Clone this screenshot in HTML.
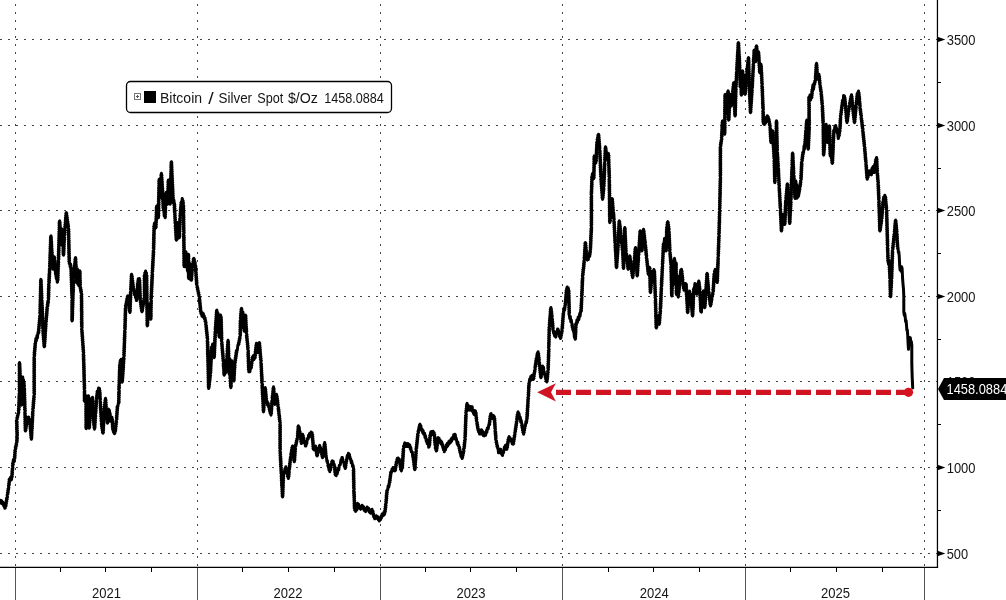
<!DOCTYPE html>
<html><head><meta charset="utf-8"><title>Bitcoin / Silver Spot</title>
<style>
html,body{margin:0;padding:0;background:#fff;}
body{width:1006px;height:600px;overflow:hidden;position:relative;font-family:"Liberation Sans",sans-serif;}
svg{position:absolute;left:0;top:0;display:block;}
text{font-family:"Liberation Sans",sans-serif;filter:url(#gs);}
</style></head><body>
<svg width="1006" height="600" viewBox="0 0 1006 600">
<defs><filter id="gs" x="-5%" y="-50%" width="110%" height="200%" color-interpolation-filters="sRGB"><feOffset dx="0" dy="0"/></filter></defs>
<rect width="1006" height="600" fill="#ffffff"/>

<g stroke="#454545" stroke-width="1" fill="none" shape-rendering="crispEdges">
<line x1="0" y1="39.5" x2="937.45" y2="39.5" stroke-dasharray="2 6" stroke-dashoffset="0"/>
<line x1="0" y1="125.5" x2="937.45" y2="125.5" stroke-dasharray="2 6" stroke-dashoffset="0"/>
<line x1="0" y1="210.5" x2="937.45" y2="210.5" stroke-dasharray="2 6" stroke-dashoffset="0"/>
<line x1="0" y1="296.5" x2="937.45" y2="296.5" stroke-dasharray="2 6" stroke-dashoffset="0"/>
<line x1="0" y1="381.5" x2="937.45" y2="381.5" stroke-dasharray="2 6" stroke-dashoffset="0"/>
<line x1="0" y1="467.5" x2="937.45" y2="467.5" stroke-dasharray="2 6" stroke-dashoffset="0"/>
<line x1="0" y1="553.5" x2="937.45" y2="553.5" stroke-dasharray="2 6" stroke-dashoffset="0"/>
<line x1="15.5" y1="-4" x2="15.5" y2="567.3" stroke-dasharray="2 6"/>
<line x1="197.5" y1="-4" x2="197.5" y2="567.3" stroke-dasharray="2 6"/>
<line x1="380.5" y1="-4" x2="380.5" y2="567.3" stroke-dasharray="2 6"/>
<line x1="562.5" y1="-4" x2="562.5" y2="567.3" stroke-dasharray="2 6"/>
<line x1="745.5" y1="-4" x2="745.5" y2="567.3" stroke-dasharray="2 6"/>
<line x1="924.5" y1="-4" x2="924.5" y2="567.3" stroke-dasharray="2 6"/>
</g>
<g stroke="#555" stroke-width="1" shape-rendering="crispEdges">
<line x1="15.5" y1="567.3" x2="15.5" y2="600"/>
<line x1="197.5" y1="567.3" x2="197.5" y2="600"/>
<line x1="380.5" y1="567.3" x2="380.5" y2="600"/>
<line x1="562.5" y1="567.3" x2="562.5" y2="600"/>
<line x1="745.5" y1="567.3" x2="745.5" y2="600"/>
<line x1="924.5" y1="567.3" x2="924.5" y2="600"/>
</g>
<g stroke="#000" stroke-width="1.25"><line x1="937.45" y1="0" x2="937.45" y2="567.9"/><line x1="0" y1="567.3" x2="938.0500000000001" y2="567.3"/></g>
<g stroke="#000" stroke-width="1" shape-rendering="crispEdges">
<line x1="60.5" y1="567.3" x2="60.5" y2="571.5"/>
<line x1="105.5" y1="567.3" x2="105.5" y2="571.5"/>
<line x1="151.5" y1="567.3" x2="151.5" y2="571.5"/>
<line x1="242.5" y1="567.3" x2="242.5" y2="571.5"/>
<line x1="288.5" y1="567.3" x2="288.5" y2="571.5"/>
<line x1="334.5" y1="567.3" x2="334.5" y2="571.5"/>
<line x1="425.5" y1="567.3" x2="425.5" y2="571.5"/>
<line x1="470.5" y1="567.3" x2="470.5" y2="571.5"/>
<line x1="516.5" y1="567.3" x2="516.5" y2="571.5"/>
<line x1="608.5" y1="567.3" x2="608.5" y2="571.5"/>
<line x1="653.5" y1="567.3" x2="653.5" y2="571.5"/>
<line x1="699.5" y1="567.3" x2="699.5" y2="571.5"/>
<line x1="790.5" y1="567.3" x2="790.5" y2="571.5"/>
<line x1="836.5" y1="567.3" x2="836.5" y2="571.5"/>
<line x1="882.5" y1="567.3" x2="882.5" y2="571.5"/>
<line x1="937.45" y1="82.5" x2="941.0500000000001" y2="82.5"/>
<line x1="937.45" y1="168.5" x2="941.0500000000001" y2="168.5"/>
<line x1="937.45" y1="253.5" x2="941.0500000000001" y2="253.5"/>
<line x1="937.45" y1="339.5" x2="941.0500000000001" y2="339.5"/>
<line x1="937.45" y1="424.5" x2="941.0500000000001" y2="424.5"/>
<line x1="937.45" y1="510.5" x2="941.0500000000001" y2="510.5"/>
</g>
<polygon points="937.45,36.8 945.35,39.5 937.45,42.2" fill="#000"/>
<text x="946.7" y="44.7" font-size="14" fill="#151515" textLength="28.8" lengthAdjust="spacingAndGlyphs">3500</text>
<polygon points="937.45,122.8 945.35,125.5 937.45,128.2" fill="#000"/>
<text x="946.7" y="130.7" font-size="14" fill="#151515" textLength="28.8" lengthAdjust="spacingAndGlyphs">3000</text>
<polygon points="937.45,207.8 945.35,210.5 937.45,213.2" fill="#000"/>
<text x="946.7" y="215.7" font-size="14" fill="#151515" textLength="28.8" lengthAdjust="spacingAndGlyphs">2500</text>
<polygon points="937.45,293.8 945.35,296.5 937.45,299.2" fill="#000"/>
<text x="946.7" y="301.7" font-size="14" fill="#151515" textLength="28.8" lengthAdjust="spacingAndGlyphs">2000</text>
<polygon points="937.45,464.8 945.35,467.5 937.45,470.2" fill="#000"/>
<text x="946.7" y="472.7" font-size="14" fill="#151515" textLength="28.8" lengthAdjust="spacingAndGlyphs">1000</text>
<polygon points="937.45,550.8 945.35,553.5 937.45,556.2" fill="#000"/>
<text x="946.7" y="558.7" font-size="14" fill="#151515" textLength="21.4" lengthAdjust="spacingAndGlyphs">500</text>
<text x="946.7" y="386.7" font-size="14" fill="#151515" textLength="28.8" lengthAdjust="spacingAndGlyphs">1500</text>
<text x="91.9" y="597.7" font-size="14" fill="#151515" textLength="29.0" lengthAdjust="spacingAndGlyphs">2021</text>
<text x="273.6" y="597.7" font-size="14" fill="#151515" textLength="29.0" lengthAdjust="spacingAndGlyphs">2022</text>
<text x="456.4" y="597.7" font-size="14" fill="#151515" textLength="29.0" lengthAdjust="spacingAndGlyphs">2023</text>
<text x="639.7" y="597.7" font-size="14" fill="#151515" textLength="29.0" lengthAdjust="spacingAndGlyphs">2024</text>
<text x="820.9" y="597.7" font-size="14" fill="#151515" textLength="29.0" lengthAdjust="spacingAndGlyphs">2025</text>
<line x1="556" y1="392.3" x2="911" y2="392.3" stroke="#cf1322" stroke-width="5.2" stroke-dasharray="15 5"/>
<polygon points="537.2,392.3 555.9,383.3 551,392.3 555.9,401.6" fill="#cf1322"/>
<polyline points="-1.0,501.0 -0.5,502.5 0.0,501.3 0.5,500.3 1.1,503.2 1.6,500.8 2.2,503.7 2.7,502.7 3.2,502.4 3.7,506.1 4.3,504.5 4.8,508.2 5.3,507.9 5.1,506.8 6.1,505.7 5.4,504.7 6.4,503.6 5.8,502.5 6.8,501.4 6.2,500.3 7.2,499.2 6.5,498.2 7.5,497.1 7.3,496.0 7.1,495.0 8.0,493.9 7.4,492.9 8.3,491.9 7.7,490.8 8.6,489.8 8.0,488.8 8.9,487.7 8.7,486.7 8.4,485.7 9.3,484.7 8.6,483.7 9.5,482.7 8.9,481.7 9.8,480.7 9.1,479.7 9.6,478.7 10.1,480.1 10.6,477.3 11.2,480.1 11.7,478.7 11.4,477.6 12.3,476.5 11.6,475.4 12.5,474.3 11.8,473.2 12.6,472.2 11.9,471.1 12.8,470.0 12.1,468.9 13.0,467.8 12.7,466.7 12.4,465.6 13.3,464.5 12.5,463.5 13.4,462.4 13.1,461.3 13.5,459.4 14.0,461.9 14.4,460.0 14.1,458.9 15.0,457.9 14.3,456.8 15.2,455.7 14.5,454.6 15.3,453.6 14.6,452.5 15.5,451.4 14.8,450.4 15.3,449.3 15.9,448.4 15.3,447.4 16.3,446.5 15.7,445.5 16.7,444.6 16.1,443.6 16.7,442.7 17.2,441.8 16.5,440.8 17.3,439.9 16.6,438.9 17.5,437.9 17.2,437.0 16.8,435.9 17.5,434.9 16.7,433.8 17.5,432.8 16.6,431.7 17.4,430.6 16.6,429.6 17.3,428.5 16.5,427.4 17.3,426.4 16.5,425.3 17.2,424.2 16.4,423.2 17.2,422.1 16.3,421.1 16.7,420.0 17.3,419.0 16.8,417.9 17.8,416.9 17.3,415.9 18.3,414.8 17.8,413.8 18.8,412.7 18.7,411.7 18.3,410.6 19.2,409.6 18.4,408.5 19.3,407.5 18.5,406.4 19.4,405.4 18.6,404.3 19.4,403.3 18.7,402.2 19.5,401.2 18.8,400.1 19.6,399.1 18.8,398.0 19.7,397.0 18.9,395.9 19.8,394.9 19.0,393.8 19.9,392.8 19.5,391.7 19.1,390.6 19.9,389.5 19.1,388.5 19.9,387.4 19.1,386.3 19.9,385.2 19.1,384.2 19.9,383.1 19.1,382.0 19.9,380.9 19.1,379.8 19.9,378.8 19.1,377.7 19.9,376.6 19.1,375.5 19.9,374.5 19.1,373.4 19.9,372.3 19.1,371.2 19.9,370.1 19.1,369.1 19.9,368.0 19.1,366.9 19.9,365.8 19.1,364.8 19.9,363.7 19.5,362.6 19.1,363.7 20.0,364.7 19.2,365.8 20.1,366.9 19.3,367.9 20.2,369.0 19.4,370.1 20.3,371.1 19.5,372.2 20.4,373.3 19.6,374.3 20.5,375.4 19.7,376.5 20.6,377.5 19.8,378.6 20.7,379.7 19.9,380.7 20.8,381.8 20.0,382.9 20.9,383.9 20.5,385.0 20.1,386.1 21.0,387.1 20.2,388.2 21.1,389.3 20.3,390.3 21.2,391.4 20.4,392.4 21.3,393.5 20.5,394.6 21.4,395.6 20.6,396.7 21.5,397.8 20.7,398.8 21.6,399.9 20.8,400.9 21.7,402.0 20.9,403.1 21.8,404.1 21.4,405.2 21.0,404.1 21.9,403.0 21.1,401.9 21.9,400.8 21.2,399.8 22.0,398.7 21.3,397.6 22.1,396.5 21.3,395.4 22.2,394.3 21.4,393.2 22.2,392.1 21.5,391.1 22.3,390.0 21.5,388.9 22.4,387.8 21.6,386.7 22.4,385.6 21.7,384.5 22.5,383.4 21.8,382.4 22.6,381.3 21.8,380.2 22.7,379.1 22.3,378.0 22.7,377.0 23.1,381.0 23.5,380.0 23.2,381.0 24.1,381.9 23.4,382.9 24.3,383.8 23.6,384.8 24.5,385.7 24.2,386.7 23.8,387.8 24.7,388.9 23.9,390.0 24.7,391.0 24.0,392.1 24.8,393.2 24.0,394.3 24.9,395.4 24.1,396.5 24.9,397.6 24.2,398.7 25.0,399.7 24.3,400.8 25.1,401.9 24.3,403.0 25.2,404.1 24.4,405.2 25.2,406.3 24.5,407.4 25.3,408.4 24.5,409.5 25.4,410.6 25.0,411.7 24.6,412.8 25.4,413.8 24.7,414.9 25.5,416.0 24.7,417.1 25.5,418.1 24.8,419.2 25.6,420.3 24.8,421.4 25.6,422.4 24.8,423.5 25.7,424.6 24.9,425.6 25.7,426.7 24.9,427.8 25.8,428.9 25.0,429.9 25.4,431.0 26.0,430.0 25.3,428.9 26.3,427.9 25.6,426.9 26.6,425.8 26.0,424.8 26.9,423.8 26.3,422.8 27.3,421.7 26.6,420.7 27.6,419.7 26.9,418.6 27.5,417.6 28.1,419.6 28.6,416.9 29.1,420.4 29.7,419.3 29.4,420.4 30.3,421.4 29.6,422.5 30.5,423.5 29.7,424.6 30.6,425.6 29.9,426.7 30.8,427.7 30.1,428.8 31.0,429.8 30.3,430.9 31.2,431.9 30.5,433.0 31.4,434.0 30.6,435.1 31.5,436.1 30.8,437.2 31.7,438.2 31.4,439.3 31.1,438.2 31.9,437.1 31.2,436.0 32.0,435.0 31.3,433.9 32.1,432.8 31.4,431.7 32.2,430.6 31.5,429.5 32.4,428.4 31.6,427.4 32.5,426.3 31.7,425.2 32.6,424.1 31.8,423.0 32.7,421.9 31.9,420.9 32.8,419.8 32.1,418.7 32.9,417.6 32.2,416.5 33.0,415.4 32.3,414.3 33.1,413.3 32.4,412.2 33.2,411.1 32.9,410.0 32.6,408.9 33.5,407.9 32.8,406.8 33.7,405.7 33.0,404.6 33.9,403.6 33.1,402.5 34.0,401.4 33.3,400.4 34.2,399.3 33.5,398.2 34.4,397.1 33.7,396.1 34.2,395.0 34.6,393.9 33.8,392.8 34.6,391.7 33.8,390.6 34.6,389.5 33.8,388.5 34.6,387.4 33.8,386.3 34.6,385.2 33.8,384.1 34.6,383.0 33.8,381.9 34.6,380.8 33.8,379.7 34.6,378.6 33.8,377.5 34.6,376.4 33.8,375.4 34.6,374.3 33.8,373.2 34.6,372.1 33.8,371.0 34.6,369.9 33.8,368.8 34.6,367.7 33.8,366.6 34.6,365.5 33.8,364.4 34.6,363.3 33.8,362.3 34.6,361.2 33.8,360.1 34.6,359.0 33.8,357.9 34.2,356.8 34.7,355.7 34.0,354.7 34.9,353.6 34.1,352.5 35.0,351.4 34.3,350.4 35.2,349.3 34.5,348.2 35.4,347.2 34.7,346.1 35.5,345.0 34.8,343.9 35.7,342.9 35.4,341.8 35.9,338.6 36.4,340.8 36.9,335.8 37.4,338.0 37.9,333.0 38.4,333.4 38.9,332.3 38.2,331.2 39.1,330.2 38.4,329.1 39.3,328.0 38.6,326.9 39.5,325.8 38.8,324.7 39.7,323.7 39.0,322.6 39.9,321.5 39.2,320.4 40.1,319.3 39.4,318.2 40.3,317.2 39.6,316.1 40.1,315.0 40.5,313.9 39.7,312.8 40.6,311.8 39.8,310.7 40.6,309.6 39.8,308.5 40.7,307.4 39.9,306.3 40.7,305.3 39.9,304.2 40.8,303.1 40.0,302.0 40.8,300.9 40.0,299.9 40.9,298.8 40.1,297.7 40.9,296.6 40.1,295.5 41.0,294.4 40.2,293.4 41.0,292.3 40.2,291.2 41.1,290.1 40.3,289.0 41.1,288.0 40.3,286.9 41.2,285.8 40.4,284.7 41.2,283.6 40.4,282.5 41.3,281.5 40.5,280.4 40.9,279.3 41.3,280.4 40.6,281.5 41.4,282.6 40.7,283.7 41.5,284.7 40.8,285.8 41.6,286.9 40.9,288.0 41.7,289.1 41.0,290.2 41.8,291.3 41.1,292.4 41.9,293.5 41.2,294.6 42.0,295.6 41.3,296.7 42.1,297.8 41.4,298.9 41.8,300.0 42.2,301.1 41.5,302.1 42.3,303.2 41.6,304.3 42.4,305.4 41.7,306.4 42.5,307.5 41.7,308.6 42.6,309.6 41.8,310.7 42.7,311.8 41.9,312.9 42.8,313.9 42.0,315.0 42.8,316.1 42.1,317.1 42.9,318.2 42.2,319.3 43.0,320.4 42.3,321.4 43.1,322.5 42.3,323.6 43.2,324.6 42.4,325.7 43.3,326.8 42.5,327.9 43.4,328.9 43.0,330.0 42.7,331.1 43.6,332.1 42.8,333.1 43.7,334.2 43.0,335.2 43.9,336.3 43.2,337.4 44.0,338.4 43.3,339.4 44.2,340.5 43.5,341.6 44.4,342.6 43.7,343.7 44.5,344.7 43.8,345.8 44.3,346.8 44.8,345.7 44.0,344.7 44.9,343.6 44.2,342.5 45.1,341.5 44.3,340.4 45.2,339.4 44.5,338.3 45.4,337.2 44.6,336.2 45.5,335.1 44.8,334.0 45.6,333.0 44.9,331.9 45.8,330.8 45.1,329.8 45.9,328.7 45.2,327.7 46.1,326.6 45.4,325.5 46.2,324.5 45.9,323.4 45.6,322.4 46.5,321.3 45.8,320.3 46.6,319.2 45.9,318.2 46.8,317.1 46.1,316.1 47.0,315.0 46.3,314.0 47.2,313.0 46.5,311.9 47.3,310.9 46.6,309.8 47.5,308.8 46.8,307.7 47.3,306.7 47.9,305.7 47.2,304.8 48.2,303.8 47.5,302.9 48.5,301.9 47.8,301.0 48.4,300.0 48.8,298.9 48.1,297.8 48.9,296.7 48.1,295.6 49.0,294.5 48.2,293.4 49.0,292.3 48.3,291.2 49.1,290.1 48.3,289.0 49.2,287.9 48.4,286.8 49.2,285.7 48.5,284.6 48.9,283.5 49.4,282.5 48.6,281.4 49.5,280.4 48.7,279.3 49.6,278.3 48.8,277.2 49.7,276.2 48.9,275.1 49.8,274.1 49.1,273.1 49.9,272.0 49.2,271.0 50.0,269.9 49.3,268.9 50.1,267.8 49.8,266.8 49.4,265.7 50.3,264.7 49.5,263.6 50.4,262.5 49.6,261.5 50.4,260.4 49.7,259.3 50.5,258.2 49.7,257.2 50.6,256.1 49.8,255.0 50.7,254.0 49.9,252.9 50.7,251.8 50.0,250.8 50.8,249.7 50.0,248.6 50.9,247.6 50.1,246.5 51.0,245.4 50.2,244.4 51.0,243.3 50.3,242.2 51.1,241.1 50.3,240.1 51.2,239.0 50.4,237.9 51.3,236.9 50.9,235.8 50.6,236.9 51.4,237.9 50.7,239.0 51.5,240.0 50.8,241.1 51.7,242.1 50.9,243.2 51.8,244.2 51.0,245.2 51.9,246.3 51.2,247.4 52.0,248.4 51.3,249.5 52.1,250.5 51.4,251.6 52.3,252.6 51.5,253.7 52.4,254.7 51.6,255.8 52.1,256.8 52.6,257.8 51.9,258.9 52.8,259.9 52.0,260.9 52.9,262.0 52.2,263.0 53.1,264.0 52.4,265.1 53.2,266.1 52.5,267.1 53.4,268.2 53.1,269.2 52.8,268.2 53.7,267.1 53.0,266.1 53.9,265.1 53.2,264.0 54.1,263.0 53.4,262.0 54.3,260.9 53.6,259.9 54.5,258.9 53.8,257.8 54.3,256.8 54.8,257.9 54.1,258.9 55.0,260.0 54.3,261.1 55.2,262.2 54.5,263.2 55.4,264.3 54.7,265.4 55.5,266.4 54.8,267.5 55.7,268.6 55.0,269.6 55.9,270.7 55.2,271.8 56.1,272.9 55.4,273.9 55.9,275.0 56.3,278.7 56.8,276.5 57.2,282.2 57.6,281.9 57.2,280.8 58.1,279.7 57.3,278.6 58.2,277.5 57.4,276.4 58.3,275.3 57.5,274.2 58.4,273.1 57.6,272.0 58.4,270.9 57.7,269.9 58.5,268.8 57.8,267.7 58.6,266.6 57.9,265.5 58.7,264.4 58.0,263.3 58.8,262.2 58.1,261.1 58.5,260.0 58.9,258.9 58.2,257.8 59.0,256.7 58.2,255.6 59.1,254.6 58.3,253.5 59.1,252.4 58.3,251.3 59.2,250.2 58.4,249.1 59.2,248.0 58.5,246.9 59.3,245.8 58.5,244.8 59.4,243.7 58.6,242.6 59.4,241.5 58.6,240.4 59.5,239.3 58.7,238.2 59.5,237.1 58.8,236.0 59.6,235.0 58.8,233.9 59.7,232.8 58.9,231.7 59.7,230.6 59.0,229.5 59.8,228.4 59.0,227.3 59.8,226.2 59.1,225.2 59.9,224.1 59.1,223.0 60.0,221.9 59.6,220.8 59.3,221.9 60.2,223.0 59.4,224.0 60.3,225.1 59.6,226.2 60.5,227.3 59.8,228.4 60.7,229.5 59.9,230.5 60.8,231.6 60.1,232.7 61.0,233.8 60.3,234.9 61.2,236.0 60.4,237.0 61.3,238.1 61.0,239.2 60.7,238.2 61.5,237.1 60.8,236.1 61.6,235.0 60.9,234.0 61.8,233.0 61.0,231.9 61.9,230.9 61.1,229.8 61.6,228.8 62.0,229.9 61.3,231.0 62.1,232.1 61.4,233.2 62.2,234.3 61.4,235.4 62.3,236.5 61.5,237.5 62.4,238.6 61.6,239.7 62.4,240.8 61.7,241.9 62.5,243.0 61.8,244.1 62.2,245.2 62.7,244.1 62.0,243.1 62.8,242.1 62.1,241.0 63.0,239.9 62.2,238.9 63.1,237.9 62.8,236.8 62.4,237.9 63.3,239.0 62.5,240.0 63.4,241.1 62.6,242.2 63.4,243.3 62.7,244.4 63.5,245.5 62.8,246.5 63.6,247.6 62.9,248.7 63.7,249.8 62.9,250.9 63.8,252.0 63.0,253.0 63.9,254.1 63.5,255.2 63.1,254.1 64.0,253.0 63.2,251.9 64.1,250.8 63.3,249.8 64.2,248.7 63.4,247.6 64.3,246.5 63.5,245.4 64.4,244.3 63.6,243.2 64.5,242.1 63.7,241.1 64.6,240.0 63.8,238.9 64.7,237.8 64.3,236.7 64.0,235.6 64.9,234.5 64.2,233.4 65.1,232.3 64.4,231.2 65.2,230.1 64.5,229.0 65.4,227.9 64.7,226.8 65.6,225.7 64.9,224.6 65.8,223.5 65.1,222.4 66.0,221.3 65.3,220.2 66.2,219.1 65.4,218.0 66.3,216.9 65.6,215.8 66.5,214.7 65.8,213.6 66.3,212.5 66.8,213.6 66.2,214.6 67.1,215.7 66.5,216.7 67.4,217.8 66.8,218.9 67.7,219.9 67.1,221.0 68.0,222.0 67.4,223.1 68.3,224.2 67.7,225.2 68.6,226.3 68.0,227.3 68.5,228.4 68.9,229.5 68.1,230.6 69.0,231.7 68.2,232.8 69.0,233.9 68.2,235.0 69.1,236.1 68.3,237.2 69.1,238.3 68.3,239.4 69.2,240.5 68.4,241.6 69.2,242.7 68.4,243.8 69.3,244.9 68.5,245.9 69.3,247.0 68.5,248.1 69.4,249.2 68.6,250.3 69.4,251.4 68.6,252.5 69.5,253.6 68.7,254.7 69.5,255.8 68.7,256.9 69.6,258.0 68.8,259.1 69.6,260.2 68.8,261.3 69.7,262.4 69.3,263.5 69.7,262.3 70.2,267.2 70.6,263.9 71.0,266.8 71.4,267.9 70.7,269.0 71.5,270.1 70.8,271.2 71.6,272.3 70.8,273.4 71.7,274.5 70.9,275.5 71.7,276.6 71.0,277.7 71.8,278.8 71.1,279.9 71.9,281.0 71.1,282.1 72.0,283.2 71.2,284.3 72.0,285.4 71.3,286.5 72.1,287.6 71.4,288.7 72.2,289.8 71.4,290.8 72.3,291.9 71.5,293.0 72.3,294.1 71.6,295.2 72.4,296.3 71.7,297.4 72.1,298.5 72.5,299.6 71.7,300.6 72.5,301.7 71.7,302.8 72.5,303.8 71.7,304.9 72.5,306.0 71.7,307.0 72.5,308.1 71.7,309.2 72.5,310.2 71.7,311.3 72.5,312.4 71.7,313.4 72.5,314.5 71.7,315.6 72.5,316.6 71.7,317.7 72.5,318.8 71.7,319.8 72.1,320.9 72.5,319.8 71.8,318.7 72.6,317.7 71.8,316.6 72.7,315.5 71.9,314.4 72.8,313.4 72.0,312.3 72.8,311.2 72.1,310.1 72.9,309.1 72.1,308.0 73.0,306.9 72.2,305.8 73.1,304.8 72.3,303.7 73.1,302.6 72.4,301.5 73.2,300.4 72.4,299.4 73.3,298.3 72.5,297.2 73.3,296.1 72.6,295.1 73.4,294.0 72.7,292.9 73.5,291.8 72.7,290.8 73.6,289.7 72.8,288.6 73.6,287.5 72.9,286.5 73.7,285.4 73.0,284.3 73.8,283.2 73.0,282.2 73.9,281.1 73.5,280.0 73.2,278.9 74.1,277.9 73.4,276.8 74.3,275.7 73.6,274.7 74.5,273.6 73.8,272.5 74.7,271.5 74.0,270.4 74.9,269.3 74.1,268.3 75.0,267.2 74.3,266.1 75.2,265.1 74.5,264.0 75.4,262.9 74.7,261.9 75.6,260.8 74.9,259.7 75.8,258.7 75.5,257.6 75.2,258.7 76.0,259.8 75.3,260.9 76.1,262.0 75.4,263.1 76.2,264.1 75.5,265.2 76.4,266.3 75.6,267.4 76.5,268.5 75.7,269.6 76.6,270.7 75.8,271.8 76.7,272.9 75.9,274.0 76.8,275.1 76.1,276.2 76.9,277.2 76.2,278.3 77.0,279.4 76.3,280.5 77.1,281.6 76.8,282.7 76.4,281.6 77.3,280.6 76.5,279.5 77.4,278.4 76.6,277.4 77.4,276.3 76.7,275.2 77.5,274.1 76.7,273.1 77.6,272.0 76.8,270.9 77.7,269.9 77.3,268.8 76.9,269.9 77.8,271.0 77.0,272.1 77.9,273.2 77.1,274.3 78.0,275.4 77.2,276.5 78.0,277.6 77.3,278.7 78.1,279.8 77.4,280.9 78.2,282.0 77.5,283.1 77.9,284.2 78.3,283.2 77.6,282.1 78.4,281.1 77.7,280.1 78.5,279.0 77.8,278.0 78.6,277.0 77.9,276.0 78.7,274.9 78.0,273.9 78.8,272.9 78.1,271.8 78.5,270.8 78.9,271.9 78.2,273.0 79.0,274.1 78.3,275.2 79.1,276.3 78.4,277.4 79.2,278.5 78.4,279.6 79.3,280.7 78.5,281.8 79.4,282.9 78.6,284.0 79.5,285.1 79.1,286.2 78.7,285.1 79.6,284.0 78.8,282.9 79.7,281.8 78.9,280.7 79.8,279.6 79.0,278.5 79.9,277.4 79.1,276.3 80.0,275.2 79.2,274.1 80.1,273.0 79.3,271.9 79.8,270.8 80.2,271.9 79.5,272.9 80.3,274.0 79.5,275.1 80.3,276.1 79.6,277.2 80.4,278.3 79.6,279.3 80.4,280.4 79.7,281.5 80.5,282.5 79.7,283.6 80.5,284.7 79.8,285.7 80.2,286.8 80.8,287.8 80.2,288.7 81.2,289.7 80.5,290.6 81.5,291.6 80.9,292.5 81.5,293.5 81.9,294.6 81.1,295.7 81.9,296.8 81.1,297.9 81.9,299.0 81.2,300.0 82.0,301.1 81.2,302.2 82.0,303.3 81.2,304.4 82.0,305.5 81.2,306.6 82.0,307.7 81.2,308.8 82.0,309.9 81.2,310.9 82.1,312.0 81.3,313.1 82.1,314.2 81.3,315.3 82.1,316.4 81.3,317.5 82.1,318.6 81.3,319.7 82.1,320.8 81.3,321.9 82.2,322.9 81.4,324.0 82.2,325.1 81.4,326.2 82.2,327.3 81.8,328.4 81.5,329.5 82.3,330.6 81.6,331.7 82.5,332.8 81.8,333.9 82.6,334.9 81.9,336.0 82.8,337.1 82.1,338.2 82.9,339.3 82.2,340.4 83.1,341.5 82.4,342.6 83.2,343.7 82.5,344.8 83.4,345.9 82.7,347.0 83.5,348.0 82.8,349.1 83.7,350.2 83.0,351.3 83.8,352.4 83.5,353.5 83.1,354.6 84.0,355.6 83.2,356.7 84.0,357.8 83.2,358.9 84.1,359.9 83.3,361.0 84.1,362.1 83.4,363.2 84.2,364.2 83.4,365.3 84.3,366.4 83.5,367.5 84.3,368.5 83.5,369.6 84.4,370.7 83.6,371.8 84.4,372.8 83.7,373.9 84.5,375.0 83.7,376.0 84.5,377.1 83.8,378.2 84.6,379.3 83.8,380.3 84.7,381.4 83.9,382.5 84.7,383.6 84.0,384.6 84.8,385.7 84.0,386.8 84.8,387.9 84.1,388.9 84.5,390.0 84.9,391.0 84.1,392.0 84.9,393.1 84.1,394.1 84.9,395.1 84.1,396.1 84.9,397.1 84.1,398.1 84.9,399.2 84.1,400.2 84.5,401.2 85.0,401.0 85.5,396.0 86.0,395.8 86.4,396.9 85.6,398.0 86.4,399.1 85.6,400.2 86.4,401.3 85.6,402.4 86.4,403.5 85.7,404.6 86.5,405.7 85.7,406.8 86.5,407.9 85.7,409.0 86.5,410.1 85.7,411.2 86.5,412.2 85.7,413.3 86.5,414.4 85.7,415.5 86.5,416.6 85.7,417.7 86.5,418.8 85.7,419.9 86.6,421.0 85.8,422.1 86.6,423.2 85.8,424.3 86.6,425.4 85.8,426.5 86.6,427.6 86.2,428.7 85.8,427.6 86.7,426.5 85.9,425.4 86.8,424.3 86.0,423.2 86.9,422.1 86.1,421.0 87.0,419.9 86.2,418.8 87.1,417.7 86.3,416.6 87.2,415.5 86.4,414.4 87.2,413.4 86.5,412.3 87.3,411.2 86.6,410.1 87.4,409.0 86.7,407.9 87.5,406.8 86.8,405.7 87.6,404.6 86.9,403.5 87.7,402.4 87.0,401.3 87.8,400.2 87.1,399.1 87.5,398.0 87.9,399.3 88.4,395.7 88.8,397.0 89.2,398.1 88.4,399.2 89.2,400.2 88.5,401.3 89.3,402.4 88.5,403.5 89.3,404.5 88.5,405.6 89.3,406.7 88.5,407.8 89.4,408.8 88.6,409.9 89.4,411.0 88.6,412.1 89.4,413.1 88.6,414.2 89.4,415.3 88.6,416.4 89.5,417.4 88.7,418.5 89.5,419.6 88.7,420.7 89.5,421.7 88.7,422.8 89.5,423.9 88.8,425.0 89.6,426.0 88.8,427.1 89.2,428.2 89.7,427.1 89.0,426.1 89.8,425.0 89.1,423.9 90.0,422.8 89.3,421.8 90.1,420.7 89.4,419.6 90.3,418.6 89.6,417.5 90.4,416.4 89.7,415.4 90.6,414.3 89.9,413.2 90.7,412.1 90.0,411.1 90.5,410.0 91.1,408.9 90.4,407.9 91.4,406.8 90.8,405.8 91.7,404.7 91.1,403.6 92.1,402.6 91.4,401.5 92.4,400.5 91.8,399.4 92.7,398.4 92.5,397.3 92.1,398.3 93.0,399.4 92.2,400.4 93.0,401.5 92.2,402.5 93.1,403.5 92.3,404.6 93.1,405.6 92.4,406.7 93.2,407.7 92.4,408.8 93.3,409.8 92.5,410.8 93.3,411.9 92.5,412.9 93.4,414.0 93.0,415.0 92.7,416.1 93.6,417.2 92.9,418.3 93.9,419.4 93.2,420.5 94.1,421.6 93.4,422.6 94.3,423.7 93.6,424.8 94.6,425.9 93.9,427.0 94.8,428.1 94.5,429.2 94.2,428.1 95.1,427.0 94.3,425.9 95.2,424.8 94.5,423.7 95.4,422.6 94.6,421.6 95.5,420.5 94.8,419.4 95.7,418.3 94.9,417.2 95.8,416.1 95.5,415.0 95.2,413.9 96.0,412.9 95.3,411.8 96.2,410.7 95.5,409.6 96.3,408.6 95.6,407.5 96.5,406.4 95.7,405.4 96.6,404.3 95.9,403.2 96.8,402.1 96.0,401.1 96.5,400.0 97.0,399.0 96.3,398.0 97.2,397.0 96.5,396.0 97.5,395.0 96.8,394.0 97.7,393.0 97.0,392.0 97.5,391.0 98.0,392.0 98.5,388.1 99.0,390.8 99.5,388.5 99.2,389.5 100.0,390.6 99.3,391.6 100.2,392.7 99.4,393.7 100.3,394.8 99.5,395.8 100.4,396.9 99.7,397.9 100.5,399.0 100.2,400.0 99.9,401.1 100.7,402.2 100.0,403.3 100.8,404.4 100.1,405.5 101.0,406.6 100.2,407.7 101.1,408.8 100.4,409.9 101.2,411.0 100.5,412.0 101.3,413.1 100.6,414.2 101.5,415.3 100.7,416.4 101.6,417.5 100.9,418.6 101.7,419.7 101.0,420.8 101.8,421.9 101.5,423.0 101.2,424.0 102.2,425.0 101.5,426.1 102.5,427.1 101.8,428.1 102.8,429.1 102.1,430.1 103.1,431.2 102.4,432.2 103.0,433.2 103.5,432.1 102.7,431.1 103.6,430.0 102.8,429.0 103.7,427.9 102.9,426.9 103.8,425.8 103.0,424.8 103.9,423.7 103.1,422.7 104.0,421.6 103.3,420.5 104.1,419.5 103.4,418.4 104.2,417.4 103.5,416.3 104.3,415.3 103.6,414.2 104.4,413.2 103.7,412.1 104.5,411.1 104.2,410.0 103.9,408.9 104.8,407.9 104.2,406.8 105.1,405.7 104.4,404.7 105.3,403.6 104.6,402.6 105.5,401.5 104.9,400.4 105.8,399.4 105.5,398.3 105.2,399.4 106.0,400.4 105.3,401.5 106.2,402.6 105.4,403.6 106.3,404.7 105.5,405.7 106.4,406.8 105.7,407.9 106.5,408.9 106.2,410.0 105.9,411.1 106.8,412.2 106.1,413.3 107.0,414.4 106.3,415.5 107.2,416.6 106.6,417.7 107.5,418.8 106.8,419.9 107.7,421.0 107.0,422.1 107.5,423.2 108.0,422.1 107.3,421.0 108.1,419.9 107.4,418.8 108.3,417.7 107.6,416.6 108.4,415.6 107.7,414.5 108.6,413.4 107.9,412.3 108.7,411.2 108.0,410.1 108.5,409.0 108.9,411.9 109.4,410.1 109.8,413.0 110.3,414.0 109.6,415.1 110.5,416.1 109.8,417.1 110.6,418.1 109.9,419.1 110.8,420.2 110.5,421.2 111.0,418.3 111.5,420.2 112.0,417.3 111.7,418.4 112.6,419.4 111.8,420.5 112.7,421.5 112.0,422.6 112.9,423.6 112.2,424.7 113.1,425.8 112.3,426.8 113.2,427.9 112.5,428.9 113.0,430.0 113.5,432.3 114.0,430.0 114.5,433.8 115.0,433.0 114.7,431.9 115.7,430.8 115.0,429.8 115.9,428.7 115.2,427.6 116.2,426.5 115.5,425.4 116.4,424.3 115.7,423.2 116.7,422.2 116.0,421.1 116.5,420.0 117.0,418.9 116.3,417.8 117.1,416.8 116.4,415.7 117.3,414.6 116.6,413.5 117.4,412.5 116.7,411.4 117.6,410.3 116.9,409.2 117.7,408.2 117.0,407.1 117.5,406.0 117.9,406.6 118.4,402.4 118.8,403.0 119.2,401.9 118.4,400.8 119.2,399.8 118.5,398.7 119.3,397.6 118.5,396.5 119.3,395.4 118.5,394.3 119.4,393.2 118.6,392.2 119.4,391.1 119.0,390.0 118.6,388.9 119.5,387.9 118.7,386.8 119.5,385.8 118.8,384.7 119.6,383.6 118.9,382.6 119.7,381.5 118.9,380.5 119.8,379.4 119.0,378.3 119.8,377.3 119.1,376.2 119.9,375.2 119.1,374.1 120.0,373.0 119.2,372.0 120.0,370.9 119.3,369.9 120.1,368.8 119.4,367.7 120.2,366.7 119.4,365.6 120.3,364.6 119.9,363.5 120.3,360.4 120.7,362.4 121.1,359.3 120.8,360.4 121.6,361.5 120.9,362.6 121.7,363.7 121.0,364.8 121.8,365.8 121.1,366.9 121.9,368.0 121.2,369.1 122.0,370.2 121.3,371.3 122.1,372.4 121.4,373.5 122.2,374.6 121.5,375.7 122.3,376.7 121.6,377.8 122.4,378.9 121.7,380.0 122.5,381.1 122.2,382.2 121.9,381.1 122.7,380.1 122.0,379.0 122.9,378.0 122.2,376.9 123.0,375.9 122.3,374.8 123.2,373.7 122.4,372.7 123.3,371.6 122.6,370.6 123.5,369.5 122.7,368.4 123.6,367.4 122.9,366.3 123.7,365.3 123.0,364.2 123.9,363.1 123.1,362.1 124.0,361.0 123.3,360.0 124.2,358.9 123.4,357.9 123.9,356.8 124.3,355.7 123.6,354.7 124.4,353.6 123.7,352.5 124.5,351.4 123.7,350.4 124.6,349.3 123.8,348.2 124.7,347.2 123.9,346.1 124.7,345.0 124.0,343.9 124.8,342.9 124.1,341.8 124.9,340.7 124.1,339.6 125.0,338.6 124.2,337.5 125.1,336.4 124.3,335.4 125.1,334.3 124.4,333.2 125.2,332.1 124.5,331.1 124.9,330.0 125.3,328.9 124.6,327.9 125.4,326.8 124.6,325.8 125.5,324.7 124.7,323.6 125.5,322.6 124.8,321.5 125.6,320.5 124.8,319.4 125.7,318.4 124.9,317.3 125.7,316.2 124.9,315.2 125.8,314.1 125.0,313.1 125.8,312.0 125.1,310.9 125.9,309.9 125.1,308.8 126.0,307.8 125.6,306.7 125.4,305.6 126.4,304.5 125.9,303.4 126.9,302.3 126.3,301.2 127.3,300.2 126.7,299.1 127.8,298.0 127.2,296.9 127.8,295.8 128.3,296.9 127.7,297.9 128.6,298.9 127.9,300.0 128.9,301.1 128.2,302.1 129.1,303.1 128.4,304.2 129.4,305.2 128.7,306.3 129.6,307.3 129.0,308.4 129.9,309.4 129.2,310.5 130.2,311.5 129.9,312.6 129.5,311.5 130.4,310.4 129.6,309.4 130.5,308.3 129.7,307.2 130.6,306.1 129.8,305.1 130.6,304.0 129.9,302.9 130.7,301.8 130.0,300.8 130.8,299.7 130.1,298.6 130.9,297.5 130.1,296.5 131.0,295.4 130.2,294.3 131.1,293.2 130.3,292.2 131.2,291.1 130.8,290.0 130.5,289.0 131.3,287.9 130.6,286.9 131.4,285.8 130.7,284.8 131.5,283.7 130.8,282.7 131.6,281.6 130.9,280.6 131.7,279.5 131.0,278.5 131.8,277.4 131.1,276.4 131.9,275.3 131.6,274.3 131.3,275.3 132.3,276.4 131.6,277.4 132.5,278.5 131.9,279.5 132.8,280.6 132.1,281.6 133.1,282.7 132.4,283.7 133.3,284.8 132.7,285.8 133.6,286.9 132.9,287.9 133.9,289.0 133.6,290.0 134.1,289.5 134.5,294.8 135.0,292.4 135.5,297.7 136.0,295.3 136.4,300.6 136.9,300.1 136.6,299.0 137.4,297.9 136.7,296.9 137.5,295.8 136.8,294.7 137.6,293.6 136.9,292.6 137.7,291.5 137.0,290.4 137.8,289.3 137.1,288.3 137.9,287.2 137.2,286.1 138.0,285.0 137.3,284.0 138.1,282.9 137.8,281.8 138.3,278.7 138.9,281.6 139.4,278.5 139.0,279.6 139.9,280.6 139.1,281.7 140.0,282.8 139.2,283.9 140.1,284.9 139.3,286.0 140.2,287.1 139.4,288.2 140.3,289.2 139.5,290.3 140.3,291.4 139.6,292.5 140.4,293.6 139.7,294.6 140.5,295.7 139.8,296.8 140.6,297.9 139.9,298.9 140.3,300.0 140.9,301.1 140.2,302.1 141.2,303.2 140.5,304.3 141.5,305.3 140.8,306.4 141.8,307.4 141.1,308.5 142.1,309.6 141.4,310.6 142.0,311.7 142.6,310.6 142.0,309.6 142.9,308.5 142.3,307.4 143.3,306.3 142.7,305.3 143.7,304.2 143.0,303.1 144.0,302.1 143.4,301.0 144.4,299.9 143.7,298.8 144.7,297.8 144.5,296.7 144.1,295.6 144.9,294.5 144.1,293.4 144.9,292.4 144.1,291.3 144.9,290.2 144.1,289.1 144.9,288.0 144.1,286.9 144.9,285.9 144.1,284.8 144.9,283.7 144.1,282.6 144.9,281.5 144.1,280.4 144.9,279.3 144.1,278.3 144.9,277.2 144.1,276.1 144.5,275.0 145.2,274.0 144.7,273.0 145.7,272.0 145.6,271.0 145.4,272.0 146.5,273.0 145.9,274.0 146.6,275.0 147.0,276.1 146.2,277.2 147.0,278.2 146.3,279.3 147.1,280.4 146.3,281.5 147.1,282.6 146.3,283.7 147.1,284.7 146.3,285.8 147.2,286.9 146.4,288.0 147.2,289.1 146.4,290.2 147.2,291.2 146.4,292.3 147.3,293.4 146.5,294.5 147.3,295.6 146.5,296.7 147.3,297.7 146.5,298.8 147.3,299.9 146.6,301.0 147.4,302.1 146.6,303.2 147.4,304.2 146.6,305.3 147.4,306.4 146.6,307.5 147.5,308.6 146.7,309.7 147.5,310.7 146.7,311.8 147.5,312.9 146.7,314.0 147.6,315.1 146.8,316.2 147.6,317.2 146.8,318.3 147.6,319.4 146.8,320.5 147.6,321.6 146.9,322.7 147.7,323.7 146.9,324.8 147.3,325.9 147.8,324.8 147.0,323.7 147.9,322.6 147.2,321.6 148.0,320.5 147.3,319.4 148.2,318.3 147.4,317.2 148.3,316.1 147.5,315.0 148.4,314.0 147.7,312.9 148.5,311.8 147.8,310.7 148.7,309.6 147.9,308.5 148.8,307.5 148.1,306.4 148.9,305.3 148.6,304.2 148.4,305.3 149.3,306.3 148.7,307.4 149.6,308.5 149.0,309.6 149.9,310.6 149.3,311.7 150.3,312.8 149.6,313.8 150.6,314.9 149.9,316.0 150.9,317.1 150.2,318.1 150.8,319.2 151.2,318.1 150.4,317.1 151.3,316.0 150.5,314.9 151.3,313.9 150.5,312.8 151.3,311.7 150.5,310.7 151.3,309.6 150.6,308.5 151.4,307.5 150.6,306.4 151.4,305.3 150.6,304.3 151.5,303.2 150.7,302.1 151.5,301.1 151.1,300.0 150.7,298.9 151.6,297.9 150.8,296.8 151.7,295.8 150.9,294.7 151.8,293.6 151.0,292.6 151.9,291.5 151.1,290.5 152.0,289.4 151.2,288.3 152.1,287.3 151.3,286.2 152.2,285.2 151.4,284.1 152.3,283.0 151.5,282.0 152.4,280.9 151.6,279.9 152.5,278.8 151.7,277.7 152.6,276.7 151.8,275.6 152.7,274.6 152.3,273.5 152.0,272.4 152.8,271.4 152.1,270.3 152.9,269.2 152.2,268.2 153.1,267.1 152.3,266.0 153.2,265.0 152.4,263.9 153.3,262.8 152.5,261.8 153.4,260.7 152.7,259.6 153.5,258.5 152.8,257.5 153.6,256.4 152.9,255.3 153.8,254.3 153.0,253.2 153.9,252.1 153.1,251.1 153.6,250.0 154.0,248.9 153.2,247.9 154.1,246.8 153.3,245.7 154.1,244.6 153.3,243.6 154.2,242.5 153.4,241.4 154.2,240.4 153.4,239.3 154.3,238.2 153.5,237.2 154.3,236.1 153.5,235.0 154.4,233.9 153.6,232.9 154.4,231.8 153.6,230.7 154.5,229.7 153.7,228.6 154.5,227.5 153.7,226.4 154.6,225.4 154.2,224.3 154.6,223.0 155.1,228.2 155.5,224.7 155.9,227.7 156.3,226.6 155.6,225.5 156.4,224.4 155.7,223.3 156.5,222.2 155.7,221.1 156.6,220.0 155.8,218.9 156.7,217.8 155.9,216.8 156.7,215.7 156.0,214.6 156.8,213.5 156.1,212.4 156.9,211.3 156.1,210.2 157.0,209.1 156.2,208.0 157.1,206.9 156.7,205.8 156.5,206.9 157.4,208.0 156.8,209.0 157.7,210.1 157.1,211.2 158.0,212.3 157.4,213.4 158.3,214.5 157.7,215.5 158.6,216.6 158.4,217.7 158.0,216.6 158.8,215.5 158.1,214.4 158.9,213.3 158.1,212.2 158.9,211.1 158.2,210.0 159.0,208.9 158.2,207.8 159.0,206.7 158.3,205.6 159.1,204.5 158.3,203.4 159.1,202.3 158.3,201.2 159.2,200.1 158.4,199.0 159.2,197.9 158.4,196.8 159.3,195.7 158.5,194.6 159.3,193.5 158.5,192.4 159.3,191.3 158.6,190.2 159.4,189.1 158.6,188.0 159.4,186.9 158.7,185.8 159.5,184.7 158.7,183.6 159.5,182.5 158.8,181.4 159.6,180.3 159.2,179.2 158.9,180.3 159.7,181.4 159.0,182.4 159.8,183.5 159.1,184.6 159.9,185.7 159.2,186.8 160.0,187.9 159.3,188.9 160.1,190.0 159.4,191.1 160.2,192.2 159.5,193.3 160.3,194.4 159.6,195.4 160.4,196.5 160.1,197.6 159.8,196.5 160.6,195.5 159.9,194.4 160.7,193.4 160.0,192.3 160.8,191.3 160.1,190.2 161.0,189.1 160.2,188.1 161.1,187.0 160.3,186.0 161.2,184.9 160.4,183.9 161.3,182.8 160.5,181.8 161.4,180.7 160.7,179.6 161.5,178.6 160.8,177.5 161.6,176.5 160.9,175.4 161.7,174.4 161.4,173.3 161.1,174.4 161.9,175.5 161.2,176.5 162.1,177.6 161.4,178.7 162.2,179.8 161.5,180.9 162.4,182.0 161.6,183.0 162.5,184.1 161.8,185.2 162.6,186.3 161.9,187.4 162.8,188.5 162.1,189.5 162.9,190.6 162.6,191.7 162.2,192.8 163.1,193.9 162.3,194.9 163.2,196.0 162.4,197.1 163.3,198.2 162.5,199.2 163.4,200.3 162.6,201.4 163.5,202.5 162.7,203.5 163.6,204.6 162.8,205.7 163.7,206.8 162.9,207.8 163.8,208.9 163.4,210.0 163.8,209.7 164.2,216.0 164.7,213.6 165.1,217.7 165.5,216.6 164.8,215.5 165.6,214.4 164.8,213.3 165.7,212.2 164.9,211.1 165.7,210.0 165.0,208.9 165.8,207.8 165.0,206.7 165.9,205.6 165.1,204.6 166.0,203.5 165.2,202.4 166.0,201.3 165.3,200.2 166.1,199.1 165.3,198.0 166.2,196.9 165.4,195.8 166.2,194.7 165.5,193.6 165.9,192.5 166.5,193.6 165.8,194.6 166.8,195.7 166.1,196.8 167.1,197.8 166.4,198.9 167.4,199.9 166.7,201.0 167.7,202.1 167.0,203.1 167.6,204.2 168.0,203.1 167.3,202.0 168.1,200.9 167.3,199.8 168.2,198.7 167.4,197.6 168.3,196.5 167.5,195.4 168.3,194.3 167.6,193.2 168.4,192.1 167.6,191.0 168.5,189.9 167.7,188.8 168.5,187.7 167.8,186.6 168.6,185.5 167.9,184.4 168.7,183.3 167.9,182.2 168.8,181.1 168.4,180.0 168.1,181.1 169.0,182.2 168.2,183.3 169.1,184.4 168.4,185.5 169.3,186.6 168.5,187.7 169.4,188.8 168.7,189.9 169.6,191.0 168.8,192.1 169.7,193.2 169.0,194.3 169.9,195.4 169.2,196.5 170.0,197.6 169.3,198.7 170.2,199.8 169.5,200.9 170.3,202.0 169.6,203.1 170.1,204.2 170.5,203.1 169.8,202.0 170.6,200.9 169.8,199.8 170.7,198.8 169.9,197.7 170.7,196.6 170.0,195.5 170.8,194.4 170.0,193.3 170.9,192.2 170.1,191.1 170.9,190.0 170.2,188.9 171.0,187.9 170.2,186.8 171.1,185.7 170.3,184.6 171.1,183.5 170.4,182.4 171.2,181.3 170.4,180.2 171.3,179.1 170.5,178.0 171.3,177.0 170.6,175.9 171.4,174.8 170.6,173.7 171.5,172.6 170.7,171.5 171.5,170.4 170.8,169.3 171.6,168.2 170.8,167.1 171.7,166.1 170.9,165.0 171.7,163.9 171.0,162.8 171.4,161.7 171.8,162.8 171.1,163.9 171.9,165.0 171.2,166.1 172.0,167.2 171.3,168.3 172.1,169.4 171.4,170.5 172.2,171.5 171.5,172.6 172.3,173.7 171.6,174.8 172.4,175.9 171.7,177.0 172.5,178.1 171.8,179.2 172.6,180.3 171.9,181.4 172.7,182.5 172.0,183.6 172.8,184.7 172.1,185.8 172.9,186.9 172.2,188.0 173.0,189.1 172.3,190.2 173.1,191.2 172.4,192.3 173.2,193.4 172.5,194.5 173.3,195.6 172.6,196.7 173.4,197.8 172.7,198.9 173.1,200.0 173.5,203.4 173.9,200.0 174.3,203.4 174.8,204.5 174.0,205.6 174.9,206.6 174.1,207.7 175.0,208.8 174.2,209.9 175.1,211.0 174.3,212.0 175.2,213.1 174.5,214.2 175.3,215.3 174.6,216.4 175.4,217.4 174.7,218.5 175.5,219.6 174.8,220.7 175.6,221.8 174.9,222.8 175.7,223.9 175.4,225.0 175.1,226.1 175.9,227.2 175.2,228.3 176.1,229.3 175.4,230.4 176.2,231.5 175.5,232.6 176.4,233.7 175.6,234.8 176.5,235.9 175.8,236.9 176.7,238.0 175.9,239.1 176.4,240.2 176.8,239.2 176.1,238.1 176.9,237.1 176.2,236.1 177.0,235.0 176.2,234.0 177.1,233.0 176.3,232.0 177.1,230.9 176.4,229.9 177.2,228.9 176.5,227.8 176.9,226.8 177.3,227.8 176.5,228.9 177.4,229.9 176.6,230.9 177.4,232.0 176.7,233.0 177.5,234.0 176.7,235.1 177.5,236.1 176.7,237.1 177.6,238.2 177.2,239.2 176.8,238.2 177.7,237.1 176.9,236.1 177.7,235.1 176.9,234.0 177.8,233.0 177.0,231.9 177.8,230.9 177.0,229.9 177.8,228.8 177.1,227.8 177.9,226.8 177.1,225.7 177.9,224.7 177.2,223.6 177.6,222.6 178.0,223.6 177.3,224.7 178.1,225.7 177.4,226.8 178.2,227.8 177.4,228.8 178.3,229.9 177.5,230.9 178.4,232.0 177.6,233.0 178.4,234.0 177.7,235.1 178.5,236.1 177.8,237.2 178.2,238.2 178.6,237.2 177.9,236.1 178.7,235.1 178.0,234.1 178.8,233.0 178.0,232.0 178.9,231.0 178.1,230.0 178.9,228.9 178.2,227.9 179.0,226.9 178.3,225.8 178.7,224.8 179.2,225.9 178.4,227.0 179.2,228.0 178.5,229.1 179.3,230.2 178.6,231.2 179.5,232.3 178.7,233.4 179.6,234.5 178.8,235.5 179.7,236.6 179.3,237.7 178.9,236.6 179.8,235.5 179.0,234.4 179.9,233.3 179.1,232.2 180.0,231.1 179.2,230.0 180.0,228.9 179.3,227.8 180.1,226.7 179.4,225.6 180.2,224.5 179.4,223.4 180.3,222.3 179.5,221.2 180.4,220.1 179.6,219.0 180.5,217.9 180.1,216.8 179.8,215.7 180.7,214.7 180.0,213.6 180.9,212.5 180.2,211.4 181.1,210.4 180.3,209.3 181.2,208.2 180.5,207.2 181.4,206.1 180.7,205.0 181.6,203.9 180.9,202.9 181.4,201.8 181.8,203.4 182.2,198.4 182.6,200.0 183.2,201.0 182.5,202.0 183.5,203.0 182.8,204.0 183.4,205.0 183.8,206.1 183.0,207.2 183.8,208.3 183.1,209.4 183.9,210.5 183.1,211.6 183.9,212.7 183.1,213.8 183.9,214.9 183.2,216.0 184.0,217.1 183.2,218.2 184.0,219.2 183.2,220.3 184.0,221.4 183.2,222.5 184.1,223.6 183.3,224.7 184.1,225.8 183.3,226.9 184.1,228.0 183.3,229.1 184.2,230.2 183.4,231.3 184.2,232.4 183.8,233.5 183.4,234.6 184.2,235.6 183.4,236.7 184.3,237.8 183.5,238.9 184.3,239.9 183.5,241.0 184.3,242.1 183.5,243.1 184.3,244.2 183.5,245.3 184.4,246.4 183.6,247.4 184.4,248.5 183.6,249.6 184.4,250.6 183.6,251.7 184.4,252.8 183.6,253.8 184.5,254.9 183.7,256.0 184.5,257.1 183.7,258.1 184.5,259.2 183.7,260.3 184.5,261.3 183.7,262.4 184.6,263.5 183.8,264.6 184.6,265.6 184.2,266.7 183.9,265.6 184.7,264.6 184.0,263.6 184.8,262.5 184.1,261.4 184.9,260.4 184.2,259.4 185.1,258.3 184.3,257.2 185.2,256.2 184.4,255.2 185.3,254.1 184.5,253.1 185.0,252.0 185.4,253.9 185.9,251.7 185.5,252.7 186.4,253.8 185.6,254.8 186.4,255.8 185.7,256.9 186.5,257.9 185.7,258.9 186.6,260.0 185.8,261.0 186.6,262.0 185.9,263.1 186.7,264.1 185.9,265.1 186.8,266.2 186.4,267.2 186.0,266.2 186.9,265.1 186.1,264.1 187.0,263.1 186.2,262.0 187.1,261.0 186.3,260.0 187.2,259.0 186.4,257.9 187.3,256.9 186.5,255.9 187.4,254.8 187.0,253.8 186.6,254.9 187.5,256.0 186.7,257.1 187.6,258.1 186.8,259.2 187.7,260.3 186.9,261.4 187.8,262.5 187.0,263.6 187.8,264.7 187.1,265.8 187.9,266.9 187.2,267.9 188.0,269.0 187.3,270.1 187.7,271.2 188.1,270.1 187.4,269.1 188.2,268.0 187.5,266.9 188.3,265.9 187.6,264.8 188.4,263.8 187.7,262.7 188.5,261.6 187.7,260.6 188.6,259.5 187.8,258.4 188.7,257.4 187.9,256.3 188.8,255.3 188.4,254.2 188.0,255.3 188.8,256.4 188.0,257.5 188.9,258.6 188.1,259.7 188.9,260.8 188.1,261.9 188.9,263.0 188.1,264.1 188.9,265.2 188.2,266.3 189.0,267.4 188.2,268.5 189.0,269.6 188.2,270.7 189.0,271.8 188.2,272.9 189.0,274.0 188.3,275.1 189.1,276.2 188.3,277.3 188.7,278.4 189.1,277.4 188.4,276.3 189.2,275.3 188.5,274.2 189.3,273.2 188.6,272.2 189.4,271.1 188.7,270.1 189.5,269.0 188.8,268.0 189.6,267.0 188.9,265.9 189.7,264.9 189.0,263.8 189.4,262.8 189.8,263.9 189.1,265.0 189.9,266.1 189.2,267.2 190.0,268.3 189.2,269.4 190.1,270.5 189.3,271.5 190.2,272.6 189.4,273.7 190.2,274.8 189.5,275.9 190.3,277.0 189.6,278.1 190.0,279.2 190.5,278.2 189.7,277.1 190.6,276.1 189.8,275.1 190.7,274.0 189.9,273.0 190.8,272.0 190.0,270.9 190.8,269.9 190.1,268.9 190.9,267.8 190.6,266.8 190.3,267.8 191.1,268.9 190.4,269.9 191.2,270.9 190.5,272.0 191.4,273.0 190.6,274.0 191.5,275.0 190.8,276.1 191.6,277.1 190.9,278.1 191.7,279.2 191.4,280.2 191.1,279.2 191.9,278.2 191.2,277.1 192.1,276.1 191.3,275.1 192.2,274.1 191.5,273.1 192.3,272.1 191.6,271.1 192.5,270.0 191.7,269.0 192.2,268.0 192.8,266.9 192.2,265.8 193.1,264.8 192.5,263.7 193.5,262.6 192.9,261.5 193.8,260.5 193.2,259.4 193.8,258.3 194.4,259.3 193.9,260.2 194.9,261.2 194.3,262.1 195.3,263.1 194.8,264.0 195.4,265.0 195.9,266.1 195.1,267.1 196.0,268.2 195.3,269.2 196.2,270.3 195.4,271.3 196.3,272.4 195.6,273.4 196.5,274.5 195.7,275.5 196.6,276.6 195.9,277.6 196.8,278.7 196.0,279.7 196.9,280.8 196.2,281.8 197.1,282.9 196.3,283.9 196.8,285.0 197.4,286.1 196.9,287.1 197.9,288.2 197.3,289.3 198.3,290.4 197.8,291.4 198.8,292.5 198.2,293.6 199.2,294.7 198.7,295.7 199.3,296.8 199.8,297.8 199.1,298.9 200.0,299.9 199.3,301.0 200.2,302.0 199.5,303.1 200.4,304.1 199.7,305.1 200.6,306.2 199.9,307.2 200.8,308.3 200.1,309.3 201.0,310.4 200.3,311.4 201.2,312.5 200.9,313.5 201.4,312.0 201.9,316.1 202.4,312.7 202.8,316.8 203.3,313.4 203.8,317.5 204.3,316.0 204.1,317.1 205.2,318.1 204.6,319.2 205.6,320.3 205.0,321.4 206.1,322.4 205.9,323.5 205.6,324.6 206.5,325.7 205.8,326.8 206.7,327.9 206.0,329.0 206.9,330.1 206.2,331.2 207.2,332.3 206.5,333.4 207.4,334.5 206.7,335.6 207.6,336.7 206.9,337.8 207.8,338.9 207.5,340.0 207.1,341.1 208.0,342.2 207.2,343.2 208.0,344.3 207.2,345.4 208.1,346.5 207.3,347.5 208.1,348.6 207.3,349.7 208.2,350.8 207.4,351.9 208.2,352.9 207.4,354.0 208.3,355.1 207.5,356.2 208.3,357.2 207.6,358.3 208.4,359.4 207.6,360.5 208.4,361.6 207.7,362.6 208.5,363.7 207.7,364.8 208.5,365.9 207.8,366.9 208.6,368.0 207.8,369.1 208.6,370.2 207.9,371.3 208.7,372.3 207.9,373.4 208.8,374.5 208.0,375.6 208.8,376.6 208.0,377.7 208.9,378.8 208.1,379.9 208.9,381.0 208.1,382.0 209.0,383.1 208.2,384.2 209.0,385.3 208.2,386.3 209.1,387.4 208.7,388.5 208.4,387.4 209.3,386.3 208.7,385.3 209.6,384.2 208.9,383.1 209.8,382.0 209.2,380.9 210.1,379.9 209.4,378.8 210.3,377.7 209.6,376.6 210.6,375.6 209.9,374.5 210.4,373.4 210.9,372.3 210.1,371.3 211.0,370.2 210.2,369.1 211.1,368.1 210.3,367.0 211.2,365.9 210.4,364.9 211.3,363.8 210.5,362.7 211.4,361.7 210.6,360.6 211.5,359.5 210.7,358.4 211.6,357.4 210.8,356.3 211.7,355.2 210.9,354.2 211.8,353.1 211.0,352.0 211.9,351.0 211.1,349.9 212.0,348.8 211.2,347.8 211.7,346.7 212.1,348.1 212.6,344.1 213.0,347.2 213.4,345.0 213.1,346.1 213.9,347.1 213.2,348.1 214.1,349.2 213.3,350.2 214.2,351.3 213.5,352.3 214.3,353.4 213.6,354.4 214.5,355.5 213.7,356.5 214.2,357.6 214.6,356.5 213.9,355.5 214.7,354.4 214.0,353.4 214.8,352.3 214.1,351.2 214.9,350.2 214.2,349.1 215.0,348.0 214.3,347.0 215.1,345.9 214.4,344.9 215.2,343.8 214.4,342.7 215.3,341.7 214.5,340.6 215.4,339.6 214.6,338.5 215.5,337.4 214.7,336.4 215.6,335.3 214.8,334.2 215.7,333.2 214.9,332.1 215.8,331.1 215.4,330.0 215.1,329.0 215.9,327.9 215.2,326.9 216.1,325.8 215.4,324.8 216.2,323.7 215.5,322.7 216.4,321.6 215.7,320.6 216.5,319.5 215.8,318.5 216.7,317.4 216.0,316.4 216.8,315.3 216.1,314.3 217.0,313.2 216.3,312.2 217.1,311.1 216.8,310.1 216.4,311.2 217.3,312.2 216.5,313.3 217.3,314.3 216.5,315.4 217.4,316.4 216.6,317.5 217.4,318.5 216.7,319.6 217.5,320.6 216.7,321.7 217.5,322.7 216.8,323.8 217.6,324.8 216.8,325.9 217.7,326.9 216.9,328.0 217.7,329.0 216.9,330.1 217.8,331.1 217.4,332.2 217.0,331.1 217.9,330.1 217.1,329.0 217.9,327.9 217.1,326.9 218.0,325.8 217.2,324.7 218.0,323.7 217.2,322.6 218.1,321.5 217.3,320.5 218.1,319.4 217.4,318.3 218.2,317.3 217.4,316.2 218.2,315.1 217.5,314.1 217.9,313.0 218.2,315.9 218.5,315.0 218.1,316.1 219.0,317.1 218.2,318.2 219.1,319.2 218.3,320.3 219.1,321.3 218.4,322.4 219.2,323.5 218.4,324.5 219.3,325.6 218.5,326.6 219.4,327.7 218.6,328.7 219.4,329.8 218.7,330.9 219.5,331.9 218.7,333.0 219.6,334.0 218.8,335.1 219.7,336.1 219.3,337.2 218.9,336.1 219.8,335.1 219.0,334.0 219.8,332.9 219.1,331.9 219.9,330.8 219.2,329.8 220.0,328.7 219.2,327.6 220.1,326.6 219.3,325.5 220.1,324.4 219.4,323.4 220.2,322.3 219.5,321.3 220.3,320.2 219.5,319.1 220.4,318.1 220.0,317.0 220.5,315.0 221.0,316.8 221.4,317.9 220.7,319.0 221.5,320.0 220.7,321.1 221.6,322.2 220.8,323.3 221.6,324.4 220.8,325.5 221.7,326.5 220.9,327.6 221.7,328.7 221.0,329.8 221.8,330.9 221.0,332.0 221.9,333.0 221.1,334.1 221.9,335.2 221.1,336.3 222.0,337.4 221.2,338.5 222.0,339.5 221.3,340.6 221.7,341.7 222.2,342.8 221.5,343.8 222.4,344.9 221.7,345.9 222.5,347.0 221.8,348.0 222.7,349.1 222.0,350.1 222.9,351.2 222.2,352.2 223.1,353.3 222.4,354.3 223.3,355.4 222.6,356.4 223.4,357.5 222.7,358.5 223.6,359.6 222.9,360.6 223.4,361.7 223.9,362.7 223.1,363.8 224.0,364.8 223.2,365.9 224.1,366.9 223.4,367.9 224.2,369.0 223.5,370.0 224.4,371.0 223.6,372.1 224.5,373.1 223.7,374.2 224.2,375.2 224.7,374.2 223.9,373.1 224.8,372.1 224.0,371.1 224.8,370.1 224.1,369.0 225.0,368.0 224.2,367.0 225.1,365.9 224.3,364.9 225.2,363.9 224.4,362.9 225.2,361.8 224.9,360.8 224.5,361.8 225.4,362.9 224.6,363.9 225.5,364.9 224.7,366.0 225.6,367.0 224.8,368.0 225.6,369.1 224.9,370.1 225.7,371.1 225.0,372.2 225.4,373.2 225.9,372.1 225.1,371.1 226.0,370.0 225.2,368.9 226.1,367.9 225.3,366.8 226.2,365.7 225.4,364.6 226.2,363.6 225.9,362.5 225.6,363.6 226.5,364.7 225.8,365.8 226.7,366.9 225.9,367.9 226.8,369.0 226.1,370.1 226.6,371.2 227.0,370.1 226.3,369.1 227.1,368.0 226.4,366.9 227.2,365.9 226.4,364.8 227.3,363.7 226.5,362.7 227.3,361.6 226.6,360.5 227.4,359.5 226.7,358.4 227.5,357.3 226.7,356.3 227.6,355.2 226.8,354.1 227.7,353.1 227.3,352.0 227.0,350.9 227.8,349.9 227.1,348.8 228.0,347.7 227.3,346.7 228.1,345.6 227.4,344.6 228.3,343.5 227.6,342.4 228.4,341.4 228.1,340.3 227.7,341.4 228.6,342.5 227.8,343.6 228.7,344.7 227.9,345.8 228.7,346.9 228.0,348.0 228.8,349.0 228.0,350.1 228.9,351.2 228.1,352.3 229.0,353.4 228.2,354.5 229.0,355.6 228.3,356.7 229.1,357.8 228.4,358.9 229.2,360.0 228.4,361.1 229.3,362.2 228.5,363.3 229.4,364.4 228.6,365.5 229.4,366.5 228.7,367.6 229.5,368.7 228.7,369.8 229.6,370.9 228.8,372.0 229.7,373.1 229.3,374.2 228.9,373.1 229.8,372.0 229.0,370.9 229.8,369.8 229.1,368.7 229.9,367.6 229.2,366.5 230.0,365.4 229.2,364.3 230.1,363.2 229.3,362.1 230.1,361.0 229.4,359.9 229.8,358.8 230.2,359.9 229.5,360.9 230.3,362.0 229.5,363.0 230.3,364.1 229.6,365.2 230.4,366.2 229.6,367.3 230.4,368.3 229.7,369.4 230.5,370.5 229.7,371.5 230.5,372.6 229.8,373.6 230.6,374.7 229.8,375.8 230.6,376.8 229.8,377.9 230.7,378.9 230.3,380.0 230.0,381.1 230.9,382.2 230.2,383.3 231.0,384.4 230.3,385.5 231.2,386.6 230.9,387.7 230.5,386.6 231.4,385.5 230.6,384.5 231.4,383.4 230.7,382.3 231.5,381.2 230.8,380.2 231.6,379.1 230.8,378.0 231.7,376.9 230.9,375.9 231.7,374.8 231.0,373.7 231.8,372.6 231.0,371.6 231.9,370.5 231.1,369.4 231.9,368.3 231.2,367.3 232.0,366.2 231.3,365.1 232.1,364.0 231.3,363.0 232.2,361.9 231.8,360.8 231.4,361.9 232.3,363.0 231.5,364.1 232.4,365.2 231.6,366.3 232.4,367.4 231.7,368.5 232.5,369.5 231.8,370.6 232.6,371.7 231.8,372.8 232.7,373.9 231.9,375.0 232.8,376.1 232.4,377.2 232.0,376.2 232.9,375.1 232.1,374.1 233.0,373.1 232.2,372.1 233.1,371.0 232.3,370.0 233.1,369.0 232.4,367.9 233.2,366.9 232.5,365.9 233.3,364.9 232.6,363.8 233.0,362.8 233.4,363.9 232.7,364.9 233.5,366.0 232.8,367.1 233.6,368.2 232.9,369.2 233.7,370.3 233.0,371.4 233.8,372.4 233.1,373.5 233.9,374.6 233.2,375.6 234.0,376.7 233.3,377.8 234.1,378.9 233.4,379.9 233.8,381.0 234.3,380.0 233.5,378.9 234.4,377.9 233.6,376.9 234.5,375.8 233.8,374.8 234.6,373.8 233.9,372.7 234.7,371.7 234.0,370.6 234.8,369.6 234.1,368.6 235.0,367.5 234.2,366.5 235.1,365.5 234.3,364.4 234.8,363.4 235.4,362.4 234.7,361.3 235.7,360.3 235.0,359.3 236.0,358.2 235.3,357.2 236.3,356.2 235.6,355.2 236.6,354.1 235.9,353.1 236.9,352.1 236.2,351.0 236.8,350.0 237.3,350.1 237.9,344.9 238.4,345.0 239.0,344.0 238.4,343.0 239.4,342.0 238.8,341.0 239.8,340.0 239.2,339.0 240.2,338.0 239.6,337.0 240.2,336.0 240.6,334.9 239.8,333.9 240.7,332.8 239.9,331.7 240.7,330.7 239.9,329.6 240.7,328.5 240.0,327.5 240.8,326.4 240.0,325.3 240.8,324.3 240.0,323.2 240.9,322.1 240.1,321.1 240.5,320.0 241.0,318.9 240.3,317.9 241.2,316.8 240.5,315.8 241.4,314.7 240.6,313.7 241.5,312.6 240.8,311.6 241.7,310.5 241.0,309.5 241.5,308.4 241.9,309.4 241.2,310.5 242.0,311.5 241.3,312.6 242.1,313.6 241.4,314.7 242.2,315.7 241.5,316.8 242.3,317.8 241.5,318.8 242.4,319.9 241.6,320.9 242.5,322.0 241.7,323.0 242.6,324.1 241.8,325.1 242.7,326.2 242.3,327.2 241.9,326.1 242.8,325.0 242.0,323.9 242.9,322.9 242.1,321.8 243.0,320.7 242.2,319.6 243.0,318.5 242.3,317.4 243.1,316.3 242.4,315.3 243.2,314.2 242.5,313.1 242.9,312.0 243.2,315.4 243.5,315.0 243.2,316.1 244.0,317.2 243.3,318.2 244.1,319.3 243.4,320.4 244.2,321.5 243.5,322.6 244.3,323.6 243.6,324.7 244.4,325.8 243.7,326.9 244.5,328.0 243.8,329.0 244.6,330.1 244.3,331.2 244.0,330.1 244.8,329.0 244.1,327.9 244.9,326.9 244.2,325.8 245.0,324.7 244.2,323.6 245.1,322.5 244.3,321.4 245.2,320.3 244.4,319.3 245.3,318.2 244.5,317.1 245.0,316.0 245.5,315.0 246.0,316.1 245.2,317.2 246.1,318.3 245.3,319.4 246.2,320.4 245.5,321.5 246.3,322.6 245.6,323.7 246.4,324.8 245.7,325.9 246.5,327.0 245.8,328.1 246.7,329.1 245.9,330.2 246.8,331.3 246.0,332.4 246.5,333.5 247.0,334.6 246.3,335.7 247.2,336.8 246.5,337.9 247.4,339.0 246.7,340.1 247.6,341.2 247.0,342.3 247.9,343.4 247.2,344.5 248.1,345.6 247.4,346.7 248.3,347.8 247.6,348.9 248.1,350.0 248.5,351.1 247.8,352.2 248.6,353.3 247.8,354.4 248.7,355.4 247.9,356.5 248.7,357.6 248.0,358.7 248.8,359.8 248.0,360.9 248.9,362.0 248.1,363.1 249.0,364.2 248.2,365.3 249.0,366.4 248.3,367.4 249.1,368.5 248.3,369.6 249.2,370.7 248.8,371.8 249.4,369.2 249.9,371.8 250.4,367.5 251.0,368.4 251.5,367.3 250.9,366.3 251.8,365.2 251.2,364.1 252.1,363.1 251.5,362.0 252.4,361.0 251.8,359.9 252.7,358.8 252.1,357.8 252.6,356.7 253.0,358.8 253.5,355.6 253.9,359.5 254.4,356.3 254.8,358.4 255.3,357.3 254.6,356.2 255.6,355.2 254.9,354.1 255.8,353.0 255.1,351.9 256.1,350.9 255.4,349.8 256.3,348.7 255.6,347.6 256.5,346.5 255.9,345.5 256.8,344.4 256.5,343.3 256.2,344.3 257.1,345.4 256.5,346.4 257.4,347.4 256.7,348.5 257.6,349.5 257.0,350.5 257.9,351.6 257.6,352.6 257.4,351.6 258.3,350.6 257.7,349.6 258.7,348.6 258.1,347.5 259.0,346.5 258.4,345.5 259.4,344.5 258.7,343.5 259.3,342.5 259.8,343.6 259.1,344.6 260.0,345.7 259.3,346.8 260.2,347.8 259.5,348.9 260.4,350.0 259.7,351.0 260.5,352.1 259.8,353.2 260.7,354.2 260.0,355.3 260.9,356.4 260.2,357.4 261.1,358.5 260.4,359.6 261.3,360.6 261.0,361.7 260.7,362.8 261.5,363.9 260.8,365.0 261.6,366.1 260.9,367.1 261.7,368.2 261.0,369.3 261.8,370.4 261.1,371.5 261.9,372.6 261.2,373.7 262.1,374.8 261.3,375.9 262.2,377.0 261.4,378.1 262.3,379.1 261.5,380.2 262.4,381.3 261.6,382.4 262.1,383.5 262.6,384.6 261.8,385.7 262.7,386.8 261.9,387.9 262.8,389.0 262.0,390.1 262.9,391.1 262.1,392.2 263.0,393.3 262.2,394.4 263.1,395.5 262.3,396.6 263.2,397.7 262.5,398.8 263.3,399.9 262.6,401.0 263.4,402.1 262.7,403.2 263.5,404.3 262.8,405.3 263.6,406.4 262.9,407.5 263.7,408.6 263.0,409.7 263.8,410.8 263.5,411.9 263.2,410.8 264.0,409.8 263.3,408.7 264.2,407.7 263.5,406.6 264.3,405.6 263.6,404.5 264.5,403.4 263.8,402.4 264.6,401.3 263.9,400.3 264.8,399.2 264.1,398.2 264.9,397.1 264.2,396.1 265.1,395.0 264.4,393.9 265.2,392.9 264.5,391.8 265.4,390.8 264.7,389.7 265.5,388.7 265.2,387.6 264.9,388.7 265.8,389.8 265.1,390.9 266.0,392.0 265.3,393.1 266.2,394.2 265.5,395.2 266.4,396.3 265.7,397.4 266.6,398.5 265.9,399.6 266.8,400.7 266.5,401.8 267.0,401.0 267.5,405.0 268.0,402.6 268.5,405.0 269.1,406.0 268.6,407.0 269.6,408.1 269.1,409.1 270.1,410.1 269.6,411.1 270.6,412.1 270.1,413.2 271.1,414.2 271.0,415.2 270.7,414.1 271.6,413.0 270.9,411.9 271.7,410.9 271.0,409.8 271.9,408.7 271.2,407.6 272.1,406.5 271.4,405.4 272.3,404.3 271.5,403.3 272.4,402.2 271.7,401.1 272.2,400.0 272.7,398.9 272.0,397.8 272.9,396.7 272.2,395.6 273.1,394.5 272.5,393.4 273.4,392.3 272.7,391.2 273.6,390.1 272.9,389.0 273.8,387.9 273.5,386.8 273.2,387.9 274.1,389.0 273.3,390.1 274.2,391.2 273.5,392.3 274.4,393.4 273.7,394.5 274.5,395.6 273.8,396.7 274.7,397.8 274.0,398.9 274.9,400.0 274.2,401.1 275.0,402.2 274.3,403.3 274.8,404.4 275.4,403.4 274.7,402.4 275.7,401.4 275.1,400.4 276.0,399.4 275.4,398.3 276.4,397.3 275.8,396.3 276.7,395.3 276.5,394.3 276.2,395.3 277.2,396.4 276.5,397.4 277.5,398.5 276.8,399.5 277.8,400.6 277.1,401.6 278.0,402.6 277.4,403.7 278.3,404.7 277.7,405.8 278.2,406.8 278.7,407.8 278.0,408.9 279.0,409.9 278.3,410.9 279.2,412.0 278.5,413.0 279.4,414.1 278.8,415.1 279.7,416.1 279.0,417.2 279.9,418.2 279.2,419.2 280.1,420.3 279.5,421.3 280.4,422.4 280.1,423.4 279.7,424.5 280.5,425.5 279.7,426.6 280.5,427.7 279.7,428.7 280.5,429.8 279.7,430.9 280.5,431.9 279.7,433.0 280.5,434.1 279.7,435.1 280.5,436.2 279.7,437.3 280.5,438.4 279.7,439.4 280.5,440.5 279.7,441.6 280.5,442.6 279.7,443.7 280.5,444.8 279.7,445.8 280.5,446.9 279.7,448.0 280.5,449.0 280.1,450.1 279.8,451.2 280.6,452.3 279.9,453.4 280.7,454.5 280.0,455.6 280.8,456.6 280.1,457.7 281.0,458.8 280.2,459.9 281.1,461.0 280.3,462.1 281.2,463.2 280.4,464.3 281.3,465.4 280.5,466.5 281.4,467.6 280.7,468.7 281.5,469.7 280.8,470.8 281.6,471.9 280.9,473.0 281.7,474.1 281.4,475.2 281.1,476.3 281.9,477.4 281.2,478.5 282.0,479.5 281.3,480.6 282.2,481.7 281.4,482.8 282.3,483.9 281.5,485.0 282.4,486.0 281.7,487.1 282.5,488.2 281.8,489.3 282.6,490.4 281.9,491.5 282.8,492.6 282.0,493.6 282.9,494.7 282.1,495.8 282.6,496.9 283.0,495.8 282.3,494.7 283.1,493.6 282.4,492.6 283.2,491.5 282.4,490.4 283.3,489.3 282.5,488.2 283.4,487.1 282.6,486.0 283.4,485.0 282.7,483.9 283.5,482.8 282.8,481.7 283.6,480.6 282.8,479.5 283.7,478.5 282.9,477.4 283.8,476.3 283.4,475.2 283.9,472.1 284.4,473.2 284.9,468.7 285.4,469.9 285.9,466.8 285.7,467.9 286.8,468.9 286.2,470.0 287.2,471.1 286.6,472.1 287.7,473.2 287.1,474.2 288.1,475.3 287.5,476.4 288.6,477.4 288.4,478.5 288.1,477.4 289.0,476.4 288.3,475.3 289.2,474.2 288.5,473.2 289.4,472.1 288.7,471.1 289.2,470.0 289.7,468.9 289.0,467.9 290.0,466.8 289.3,465.7 290.2,464.7 289.5,463.6 290.4,462.6 289.8,461.5 290.7,460.4 290.0,459.4 290.9,458.3 290.3,457.2 291.2,456.2 290.9,455.1 290.7,454.1 291.7,453.1 291.1,452.0 292.1,451.0 291.4,450.0 292.4,449.0 291.8,447.9 292.8,446.9 292.6,445.9 292.3,447.0 293.2,448.0 292.5,449.1 293.5,450.1 292.8,451.2 293.7,452.3 293.0,453.3 293.9,454.4 293.2,455.4 294.1,456.5 293.4,457.6 294.4,458.6 293.7,459.7 294.6,460.7 294.3,461.8 294.0,460.7 294.9,459.7 294.1,458.6 295.0,457.5 294.3,456.4 295.2,455.4 294.5,454.3 295.3,453.2 294.6,452.2 295.5,451.1 294.8,450.0 295.6,448.9 294.9,447.9 295.4,446.8 296.0,445.8 295.4,444.8 296.5,443.8 295.9,442.8 296.9,441.8 296.3,440.7 297.3,439.7 296.8,438.7 297.8,437.7 297.6,436.7 297.3,435.6 298.2,434.5 297.4,433.4 298.3,432.3 297.6,431.2 298.5,430.2 297.8,429.1 298.6,428.0 297.9,426.9 298.4,425.8 298.8,428.8 299.2,427.2 299.7,431.8 300.1,431.7 299.8,432.8 300.7,433.8 300.1,434.9 301.0,436.0 300.3,437.1 301.2,438.1 300.5,439.2 301.4,440.3 300.8,441.4 301.7,442.4 301.4,443.5 301.1,442.5 302.1,441.4 301.4,440.4 302.3,439.4 301.7,438.3 302.6,437.3 301.9,436.3 302.9,435.2 302.6,434.2 302.4,435.2 303.4,436.1 302.8,437.1 303.8,438.1 303.2,439.0 303.8,440.0 304.3,443.0 304.9,441.5 305.4,446.0 305.9,446.0 306.3,442.6 306.8,443.7 307.2,438.8 307.6,438.4 308.1,439.1 308.6,435.2 309.1,437.4 309.6,433.5 310.1,434.2 310.6,435.3 311.1,431.9 311.6,434.5 312.1,432.6 311.8,433.6 312.7,434.7 312.0,435.7 312.9,436.8 312.1,437.8 313.0,438.9 312.3,439.9 313.2,441.0 312.5,442.0 313.4,443.0 312.7,444.1 313.5,445.1 312.8,446.2 313.7,447.2 313.0,448.3 313.5,449.3 314.0,449.9 314.5,446.1 315.0,448.2 315.5,445.9 315.3,446.9 316.2,447.9 315.6,448.9 316.5,449.9 315.9,451.0 316.9,452.0 316.2,453.0 317.2,454.0 316.5,455.0 317.1,456.0 317.7,455.0 317.1,454.0 318.2,453.0 317.6,452.0 318.6,451.0 318.0,449.9 319.0,448.9 318.5,447.9 319.5,446.9 319.3,445.9 319.7,445.4 320.1,449.4 320.6,447.5 321.0,450.0 321.6,451.1 321.1,452.2 322.1,453.3 321.5,454.4 322.5,455.5 322.0,456.6 322.6,457.7 323.1,456.6 322.5,455.5 323.4,454.5 322.8,453.4 323.8,452.3 323.1,451.2 324.0,450.1 323.4,449.1 324.3,448.0 323.7,446.9 324.6,445.8 324.0,444.8 324.9,443.7 324.7,442.6 324.4,443.7 325.3,444.8 324.6,445.9 325.5,447.0 324.8,448.1 325.7,449.2 325.0,450.2 325.9,451.3 325.2,452.4 326.1,453.5 325.4,454.6 326.3,455.7 326.0,456.8 326.4,457.0 326.9,461.6 327.3,460.4 327.7,463.5 328.4,464.5 327.8,465.6 328.9,466.6 328.4,467.6 329.4,468.7 328.9,469.7 329.9,470.8 329.8,471.8 329.6,470.7 330.7,469.6 330.1,468.5 331.2,467.4 330.6,466.4 331.6,465.3 331.1,464.2 332.1,463.1 331.6,462.0 332.2,460.9 332.7,463.2 333.2,461.2 333.8,464.9 334.3,464.3 334.0,465.4 334.9,466.5 334.3,467.6 335.2,468.7 334.5,469.8 335.4,470.8 334.7,471.9 335.7,473.0 335.0,474.1 335.5,475.2 336.1,475.7 336.6,472.1 337.1,474.1 337.7,471.8 338.2,468.7 338.8,469.9 339.3,465.4 339.8,465.1 340.3,464.7 340.9,459.9 341.4,460.9 341.9,457.6 342.4,457.6 343.0,461.8 343.5,461.8 343.9,462.0 344.4,466.6 344.8,465.4 345.2,468.5 345.8,467.4 345.1,466.3 346.1,465.2 345.5,464.1 346.4,463.1 345.8,462.0 346.8,460.9 346.2,459.8 347.1,458.7 346.9,457.6 347.4,455.2 347.9,457.2 348.4,453.3 348.9,453.8 349.5,454.7 348.9,455.6 349.9,456.6 349.4,457.5 350.4,458.4 350.2,459.3 350.7,458.9 351.2,462.8 351.7,461.0 352.2,463.5 352.6,466.6 353.1,465.4 353.5,468.5 353.9,469.6 353.1,470.6 354.0,471.7 353.2,472.8 354.0,473.9 353.2,474.9 354.0,476.0 353.3,477.1 354.1,478.2 353.3,479.2 354.1,480.3 353.3,481.4 354.2,482.5 353.4,483.6 354.2,484.6 353.4,485.7 354.2,486.8 353.5,487.9 354.3,488.9 353.9,490.0 353.5,491.1 354.4,492.1 353.6,493.2 354.5,494.2 353.7,495.3 354.6,496.3 353.8,497.4 354.6,498.5 353.9,499.5 354.7,500.6 354.0,501.6 354.8,502.7 354.0,503.8 354.9,504.8 354.1,505.9 355.0,506.9 354.2,508.0 355.1,509.0 354.7,510.1 355.2,508.8 355.7,511.4 356.2,508.8 356.7,510.1 357.2,509.1 356.6,508.2 357.5,507.2 356.8,506.3 357.7,505.3 357.1,504.4 357.6,503.4 358.1,505.7 358.6,504.1 359.1,507.8 359.6,506.2 360.1,508.5 360.6,509.3 361.1,506.2 361.6,508.3 362.1,505.2 362.6,506.0 363.1,508.3 363.6,506.7 364.1,510.3 364.6,508.7 365.1,511.0 365.6,511.6 366.1,508.3 366.6,510.3 367.1,507.0 367.6,507.6 368.1,509.9 368.6,508.3 369.1,511.9 369.6,510.3 370.1,512.6 370.6,513.1 371.1,509.7 371.6,511.4 372.1,509.3 372.0,510.4 373.1,511.4 372.5,512.5 373.6,513.5 373.1,514.6 374.1,515.6 373.6,516.7 374.3,517.7 374.8,518.8 375.3,516.1 375.8,518.4 376.3,515.7 376.8,516.8 377.3,518.6 377.8,516.7 378.3,519.8 378.8,517.8 379.3,520.9 379.8,520.2 380.3,518.0 380.7,519.5 381.2,516.0 381.7,517.5 382.1,514.0 382.6,514.3 383.2,515.4 383.7,512.6 384.2,515.0 384.8,513.5 384.5,512.5 385.4,511.5 384.7,510.5 385.6,509.5 385.0,508.5 385.9,507.5 385.2,506.5 386.1,505.5 385.4,504.5 385.9,503.5 386.4,502.5 385.7,501.4 386.6,500.4 385.9,499.4 386.8,498.3 386.1,497.3 386.9,496.3 386.2,495.3 387.1,494.2 386.4,493.2 387.3,492.2 386.6,491.1 387.1,490.1 387.7,490.0 388.2,485.8 388.8,487.1 389.3,484.3 389.0,483.2 390.0,482.2 389.3,481.1 390.3,480.1 389.6,479.1 390.5,478.0 389.9,476.9 390.8,475.9 390.2,474.9 391.1,473.8 390.5,472.8 391.0,471.7 391.5,472.4 392.0,469.0 392.5,471.1 393.0,467.6 393.5,468.4 394.0,470.6 394.6,468.7 395.1,470.9 395.7,469.8 395.0,468.7 396.0,467.6 395.4,466.5 396.4,465.4 395.7,464.4 396.7,463.3 396.1,462.2 397.0,461.1 396.8,460.0 397.3,458.4 397.8,461.1 398.3,458.1 398.8,460.8 399.3,459.2 399.1,460.3 400.0,461.4 399.4,462.5 400.4,463.6 399.8,464.6 400.7,465.7 400.1,466.8 401.1,467.9 400.4,469.0 401.0,470.1 401.4,470.9 401.8,467.6 402.2,468.4 402.7,467.3 401.9,466.3 402.8,465.2 402.1,464.2 402.9,463.1 402.2,462.1 403.1,461.0 402.3,460.0 403.2,458.9 402.5,457.9 403.4,456.8 402.6,455.8 403.5,454.7 402.8,453.7 403.6,452.6 402.9,451.6 403.8,450.5 403.0,449.5 403.5,448.4 404.1,447.3 403.5,446.3 404.5,445.2 404.3,444.2 404.8,442.9 405.3,446.0 405.7,443.3 406.2,446.4 406.7,445.1 407.2,443.6 407.7,446.5 408.3,443.6 408.8,446.5 409.3,445.0 409.8,444.9 410.3,449.2 410.8,447.5 411.3,451.8 411.8,451.7 412.3,451.9 412.7,456.5 413.2,456.7 412.9,457.8 413.9,458.9 413.2,459.9 414.1,461.0 413.5,462.1 414.4,463.2 413.7,464.3 414.7,465.4 414.0,466.4 414.9,467.5 414.3,468.6 414.8,469.7 415.3,468.6 414.6,467.5 415.4,466.4 414.7,465.3 415.6,464.2 414.9,463.1 415.7,462.0 415.0,460.9 415.9,459.9 415.2,458.8 416.1,457.7 415.3,456.6 416.2,455.5 415.5,454.4 416.4,453.3 415.6,452.2 416.5,451.1 416.2,450.0 415.9,449.0 416.8,447.9 416.1,446.9 417.0,445.9 416.4,444.8 417.3,443.8 416.6,442.7 417.5,441.7 416.8,440.7 417.7,439.6 417.0,438.6 417.9,437.5 417.3,436.5 418.2,435.5 417.5,434.4 418.0,433.4 418.6,432.4 418.0,431.4 419.1,430.3 418.5,429.3 419.5,428.3 418.9,427.3 420.0,426.2 419.4,425.2 420.0,424.2 420.4,427.2 420.9,425.6 421.3,430.2 421.7,430.1 422.2,429.2 422.7,432.9 423.2,430.6 423.7,434.3 424.2,433.4 424.6,433.2 425.0,437.5 425.5,435.7 425.9,438.5 426.3,441.3 426.8,439.5 427.2,443.7 427.6,443.5 428.1,443.1 428.7,447.2 429.2,446.8 428.9,445.8 429.8,444.7 429.1,443.7 430.0,442.7 429.3,441.6 430.2,440.6 429.4,439.6 430.3,438.6 429.6,437.5 430.5,436.5 429.8,435.5 430.7,434.4 430.4,433.4 430.9,431.8 431.5,434.7 432.0,431.5 432.6,434.5 433.1,431.3 433.7,434.2 434.2,432.6 433.9,433.7 434.8,434.8 434.1,435.9 435.0,437.0 434.3,438.1 435.2,439.2 434.4,440.2 435.3,441.3 434.6,442.4 435.5,443.5 434.8,444.6 435.7,445.7 435.4,446.8 435.2,447.9 436.3,448.9 435.8,449.9 436.4,451.0 436.9,450.0 436.3,448.9 437.2,447.9 436.5,446.9 437.5,445.8 436.8,444.8 437.7,443.8 437.0,442.8 438.0,441.7 437.3,440.7 438.2,439.7 437.6,438.6 438.1,437.6 438.6,440.2 439.1,438.2 439.6,442.3 440.1,441.8 440.6,440.7 441.1,444.1 441.6,441.6 442.1,443.5 442.8,444.5 442.3,445.6 443.3,446.6 442.8,447.6 443.9,448.7 443.4,449.7 444.4,450.8 444.3,451.8 444.8,448.7 445.4,449.9 445.9,446.8 446.4,444.7 446.9,447.0 447.4,443.3 447.9,445.7 448.4,443.5 448.8,441.6 449.2,444.1 449.7,440.7 450.1,441.8 450.6,442.6 451.1,439.0 451.6,441.3 452.1,437.7 452.6,438.5 453.2,438.9 453.7,434.8 454.2,436.8 454.8,434.2 455.3,434.6 455.8,439.5 456.3,438.4 456.8,441.8 457.3,444.1 457.8,442.0 458.3,445.8 458.8,445.1 458.6,446.2 459.6,447.2 459.0,448.2 460.0,449.3 459.5,450.4 460.5,451.4 459.9,452.4 460.5,453.5 461.0,456.6 461.6,455.4 462.1,458.5 462.7,457.4 462.1,456.4 463.1,455.4 462.6,454.3 463.6,453.2 463.0,452.2 464.0,451.2 463.8,450.1 463.5,449.0 464.4,448.0 463.8,446.9 464.7,445.9 464.0,444.8 464.9,443.8 464.2,442.7 465.1,441.7 464.5,440.6 465.4,439.6 465.1,438.5 464.7,437.4 465.6,436.3 464.8,435.2 465.7,434.1 464.9,433.0 465.7,432.0 465.0,430.9 465.8,429.8 465.1,428.7 465.9,427.6 465.1,426.5 466.0,425.4 465.2,424.3 466.0,423.2 465.3,422.1 466.1,421.0 465.4,419.9 466.2,418.9 465.4,417.8 466.3,416.7 465.5,415.6 466.4,414.5 466.0,413.4 465.7,412.4 466.6,411.4 465.9,410.4 466.8,409.4 466.2,408.4 467.1,407.3 466.4,406.3 467.3,405.3 466.6,404.3 467.1,403.3 467.7,406.6 468.2,405.1 468.8,410.0 469.3,410.1 469.8,407.8 470.3,410.3 470.8,406.5 471.3,409.0 471.8,406.7 472.2,406.8 472.6,411.6 473.1,410.1 473.5,413.4 474.0,414.4 474.5,410.6 475.0,413.1 475.5,410.9 475.2,412.0 476.2,413.1 475.5,414.2 476.4,415.3 475.8,416.4 476.7,417.4 476.0,418.5 476.9,419.6 476.3,420.7 476.8,421.8 477.4,422.8 476.7,423.8 477.7,424.8 477.1,425.8 478.0,426.8 477.4,427.8 478.4,428.8 477.8,429.8 478.7,430.8 478.5,431.8 479.0,430.7 479.5,434.1 480.0,431.5 480.5,433.4 480.9,433.8 481.4,429.7 481.8,430.1 482.2,432.9 482.6,431.1 483.1,435.4 483.5,435.1 484.0,433.2 484.5,435.9 485.0,432.6 485.5,435.3 486.0,433.4 486.4,430.6 486.9,432.4 487.3,428.1 487.7,428.4 488.2,428.8 488.8,424.7 489.3,425.1 489.8,424.0 489.1,422.9 490.1,421.8 489.4,420.7 490.3,419.6 489.6,418.6 490.5,417.5 489.9,416.4 490.8,415.3 490.5,414.2 491.1,413.5 491.6,417.5 492.1,415.2 492.7,417.6 493.1,418.9 493.5,415.6 494.0,418.5 494.4,416.7 494.1,417.7 494.9,418.8 494.2,419.8 495.0,420.8 494.3,421.9 495.2,422.9 494.4,423.9 495.3,424.9 494.6,426.0 495.4,427.0 494.7,428.0 495.5,429.1 495.2,430.1 494.9,431.1 495.8,432.1 495.0,433.1 495.9,434.1 495.2,435.1 496.1,436.1 495.4,437.1 496.2,438.1 495.5,439.1 496.0,440.1 496.6,441.2 496.0,442.2 497.0,443.2 496.5,444.3 497.5,445.4 496.9,446.4 497.9,447.4 497.7,448.5 498.1,448.4 498.5,452.8 498.9,452.7 499.3,450.1 499.8,451.9 500.2,449.3 500.7,449.3 501.2,453.7 501.7,452.3 502.2,455.2 502.6,455.4 503.0,451.2 503.5,452.8 503.9,450.1 504.4,447.0 505.0,448.2 505.5,445.1 506.0,445.0 506.4,449.4 506.9,449.3 506.7,448.2 507.6,447.2 507.0,446.1 507.9,445.0 507.3,444.0 508.2,442.9 507.6,441.9 508.5,440.8 507.9,439.7 508.8,438.7 508.6,437.6 509.1,436.6 509.6,440.1 510.1,437.6 510.6,441.1 511.1,440.1 511.6,439.7 512.2,443.7 512.7,441.8 513.2,444.3 513.8,443.2 513.1,442.1 514.1,441.0 513.5,439.9 514.4,438.9 513.8,437.8 514.8,436.7 514.2,435.6 515.1,434.5 514.9,433.4 514.7,432.4 515.6,431.4 515.0,430.3 515.9,429.3 515.3,428.3 516.2,427.3 515.6,426.2 516.5,425.2 515.9,424.2 516.8,423.2 516.2,422.1 517.1,421.1 516.9,420.1 516.6,419.0 517.5,418.0 516.8,416.9 517.8,415.8 517.1,414.7 518.0,413.7 517.7,412.6 518.1,411.8 518.5,415.8 519.0,413.5 519.4,415.9 519.8,419.0 520.3,417.3 520.7,422.0 521.2,420.3 521.6,423.4 522.2,424.5 521.6,425.6 522.6,426.7 522.0,427.8 523.0,428.9 522.4,429.9 523.4,431.0 522.8,432.1 523.8,433.2 523.6,434.3 523.4,433.2 524.3,432.2 523.7,431.1 524.6,430.1 524.0,429.1 525.0,428.0 524.3,426.9 524.9,425.9 525.4,426.0 525.9,421.4 526.4,423.1 526.9,420.1 526.6,419.0 527.4,418.0 526.7,416.9 527.6,415.8 526.8,414.8 527.7,413.7 526.9,412.7 527.8,411.6 527.1,410.5 527.9,409.5 527.2,408.4 528.1,407.3 527.3,406.3 528.2,405.2 527.5,404.1 528.3,403.1 527.6,402.0 528.4,401.0 527.7,399.9 528.6,398.8 527.8,397.8 528.3,396.7 528.8,395.6 528.0,394.6 528.9,393.5 528.2,392.4 529.0,391.3 528.3,390.3 529.1,389.2 528.4,388.1 529.3,387.1 528.5,386.0 529.4,384.9 528.7,383.8 529.5,382.8 529.2,381.7 529.7,378.9 530.2,381.1 530.7,376.6 531.2,378.8 531.7,376.0 532.1,375.2 532.5,379.4 533.0,376.9 533.4,379.4 534.0,378.3 533.3,377.2 534.3,376.1 533.7,375.0 534.6,373.9 534.0,372.9 535.0,371.8 534.4,370.7 535.3,369.6 535.1,368.5 534.8,367.4 535.8,366.4 535.1,365.3 536.1,364.2 535.4,363.2 536.4,362.1 535.7,361.1 536.7,360.0 536.0,358.9 537.0,357.9 536.7,356.8 537.2,353.4 537.6,355.2 538.1,351.8 537.8,352.8 538.7,353.8 538.0,354.8 538.9,355.8 538.3,356.8 539.2,357.8 538.5,358.8 539.4,359.8 538.7,360.8 539.2,361.8 539.7,362.9 539.0,363.9 539.9,365.0 539.3,366.0 540.2,367.1 539.5,368.2 540.4,369.2 539.7,370.3 540.6,371.3 539.9,372.4 540.8,373.5 540.2,374.5 541.1,375.6 540.4,376.6 540.9,377.7 541.5,376.6 540.8,375.6 541.8,374.5 541.1,373.4 542.1,372.4 541.4,371.3 542.4,370.3 541.7,369.2 542.7,368.1 542.0,367.1 542.6,366.0 543.0,369.2 543.5,367.2 543.9,372.1 544.3,371.8 544.1,372.8 545.2,373.8 544.6,374.8 545.7,375.8 545.1,376.9 546.2,377.9 545.6,378.9 546.7,379.9 546.1,380.9 546.8,381.9 547.3,380.8 546.6,379.8 547.6,378.7 546.9,377.6 547.8,376.6 547.1,375.5 548.0,374.5 547.3,373.4 548.3,372.3 547.6,371.3 548.1,370.2 548.5,369.1 547.8,368.0 548.6,366.9 547.8,365.8 548.7,364.8 547.9,363.7 548.7,362.6 548.0,361.5 548.8,360.4 548.1,359.3 548.9,358.2 548.1,357.1 549.0,356.0 548.2,354.9 549.0,353.8 548.3,352.8 549.1,351.7 548.3,350.6 549.2,349.5 548.8,348.4 548.4,347.3 549.2,346.2 548.5,345.1 549.3,344.1 548.5,343.0 549.3,341.9 548.6,340.8 549.4,339.7 548.6,338.6 549.4,337.5 548.7,336.5 549.5,335.4 548.7,334.3 549.5,333.2 548.8,332.1 549.6,331.0 548.8,330.0 549.6,328.9 548.9,327.8 549.3,326.7 549.8,325.6 549.1,324.6 550.0,323.5 549.3,322.4 550.1,321.4 549.4,320.3 550.3,319.2 549.6,318.2 550.5,317.1 549.8,316.0 550.7,315.0 550.0,313.9 550.9,312.8 550.1,311.8 551.0,310.7 550.3,309.6 551.2,308.6 550.9,307.5 550.6,308.6 551.5,309.7 550.9,310.8 551.8,311.9 551.1,312.9 552.0,314.0 551.3,315.1 552.3,316.2 551.6,317.3 552.1,318.4 552.6,319.5 551.9,320.5 552.8,321.6 552.1,322.7 553.0,323.7 552.2,324.8 553.1,325.8 552.4,326.9 553.3,328.0 552.6,329.0 553.1,330.1 553.6,333.3 554.0,331.0 554.5,335.9 554.9,333.6 555.4,336.8 555.9,337.1 556.5,331.9 557.0,334.1 557.6,328.9 558.1,329.2 558.6,332.9 559.1,331.1 559.5,336.6 560.0,334.8 560.5,338.5 561.1,337.4 560.5,336.4 561.5,335.4 560.9,334.3 561.9,333.2 561.3,332.2 562.3,331.2 562.1,330.1 561.8,329.0 562.7,327.9 561.9,326.9 562.8,325.8 562.1,324.7 563.0,323.6 562.3,322.5 563.2,321.4 562.4,320.4 563.3,319.3 562.6,318.2 563.5,317.1 562.8,316.0 563.7,314.9 562.9,313.9 563.8,312.8 563.5,311.7 564.0,308.1 564.6,310.3 565.1,306.7 564.8,305.6 565.7,304.6 565.0,303.5 565.9,302.4 565.2,301.3 566.1,300.3 565.4,299.2 566.3,298.1 565.5,297.1 566.4,296.0 565.7,294.9 566.6,293.9 565.9,292.8 566.8,291.7 566.1,290.6 567.0,289.6 566.7,288.5 567.2,287.0 567.7,291.3 568.2,287.8 568.7,290.2 569.1,291.3 568.4,292.4 569.2,293.4 568.4,294.5 569.2,295.6 568.5,296.7 569.3,297.7 568.5,298.8 569.3,299.9 568.6,301.0 569.4,302.1 568.6,303.1 569.4,304.2 568.7,305.3 569.5,306.4 568.7,307.5 569.5,308.5 568.8,309.6 569.6,310.7 568.8,311.8 569.6,312.8 568.9,313.9 569.3,315.0 569.8,318.6 570.3,316.5 570.8,321.9 571.3,319.9 571.8,323.4 572.4,324.4 571.8,325.5 572.8,326.5 572.2,327.5 573.3,328.6 572.7,329.6 573.7,330.7 573.5,331.7 573.9,331.8 574.4,337.3 574.8,335.6 575.2,339.3 575.7,338.2 574.9,337.2 575.8,336.1 575.0,335.1 575.9,334.0 575.1,332.9 576.0,331.9 575.2,330.8 576.1,329.8 575.3,328.7 576.2,327.6 575.4,326.6 576.3,325.5 575.5,324.5 576.0,323.4 576.4,324.4 576.9,319.9 577.3,322.8 577.7,320.1 578.2,317.1 578.8,319.7 579.3,316.7 579.7,313.6 580.1,316.1 580.6,311.1 581.0,311.7 581.5,310.6 580.7,309.6 581.6,308.5 580.8,307.4 581.7,306.4 580.9,305.3 581.8,304.2 581.1,303.2 581.9,302.1 581.2,301.1 582.0,300.0 581.3,298.9 582.1,297.9 581.8,296.8 581.4,295.7 582.3,294.7 581.5,293.6 582.4,292.6 581.6,291.5 582.5,290.5 581.7,289.4 582.5,288.4 581.8,287.3 582.6,286.3 581.9,285.2 582.7,284.2 581.9,283.1 582.8,282.1 582.0,281.0 582.9,280.0 582.1,278.9 583.0,277.9 582.6,276.8 582.3,275.8 583.2,274.7 582.5,273.7 583.4,272.6 582.7,271.6 583.6,270.5 582.9,269.5 583.9,268.5 583.2,267.4 584.1,266.4 583.4,265.3 584.3,264.3 583.6,263.2 584.5,262.2 583.8,261.1 584.3,260.1 584.8,259.1 584.0,258.0 584.9,257.0 584.2,256.0 585.0,254.9 584.3,253.9 585.2,252.9 584.4,251.8 585.3,250.8 584.5,249.7 585.4,248.7 584.7,247.7 585.5,246.6 584.8,245.6 585.7,244.6 584.9,243.5 585.4,242.5 585.9,243.6 585.2,244.6 586.1,245.7 585.4,246.7 586.3,247.8 585.6,248.9 586.5,249.9 585.7,251.0 586.6,252.0 585.9,253.1 586.8,254.2 586.1,255.2 587.0,256.3 586.3,257.3 586.8,258.4 587.3,260.1 587.8,255.7 588.3,259.5 588.8,255.1 589.3,256.8 589.9,255.8 589.2,254.9 590.2,253.9 589.5,253.0 590.5,252.0 589.8,251.1 590.4,250.1 590.8,249.0 590.1,248.0 590.9,246.9 590.2,245.8 591.0,244.8 590.3,243.7 591.1,242.7 590.4,241.6 591.2,240.5 590.5,239.5 591.3,238.4 590.5,237.3 591.4,236.3 590.6,235.2 591.5,234.1 590.7,233.1 591.6,232.0 590.8,231.0 591.7,229.9 590.9,228.8 591.8,227.8 591.4,226.7 591.0,225.6 591.8,224.5 591.0,223.4 591.8,222.4 591.0,221.3 591.8,220.2 591.0,219.1 591.8,218.0 591.0,216.9 591.8,215.8 591.0,214.8 591.8,213.7 591.0,212.6 591.8,211.5 591.0,210.4 591.8,209.3 591.0,208.2 591.8,207.1 591.0,206.1 591.8,205.0 591.0,203.9 591.8,202.8 591.0,201.7 591.8,200.6 591.0,199.5 591.8,198.5 591.0,197.4 591.8,196.3 591.4,195.2 591.0,194.1 591.9,193.1 591.1,192.0 591.9,191.0 591.2,189.9 592.0,188.9 591.3,187.8 592.1,186.7 591.3,185.7 592.2,184.6 591.4,183.6 592.2,182.5 591.5,181.4 592.3,180.4 591.6,179.3 592.4,178.3 591.6,177.2 592.5,176.2 592.1,175.1 592.5,173.6 593.0,179.1 593.4,175.4 593.8,178.5 594.2,177.4 593.4,176.3 594.3,175.3 593.5,174.2 594.3,173.1 593.5,172.0 594.4,171.0 593.6,169.9 594.4,168.8 593.6,167.7 594.5,166.7 593.7,165.6 594.5,164.5 593.7,163.4 594.6,162.4 593.8,161.3 594.6,160.2 593.8,159.1 594.7,158.1 593.9,157.0 594.3,155.9 594.7,159.9 595.1,156.9 595.6,163.3 596.0,162.6 595.7,161.6 596.5,160.5 595.8,159.5 596.6,158.4 595.9,157.4 596.7,156.3 596.0,155.3 596.8,154.2 596.1,153.2 596.9,152.1 596.2,151.1 597.1,150.1 596.3,149.0 597.2,148.0 596.4,146.9 597.3,145.9 596.5,144.8 597.4,143.8 596.6,142.7 597.1,141.7 597.7,140.6 597.1,139.6 598.1,138.5 597.5,137.4 598.5,136.3 597.9,135.3 598.5,134.2 599.0,135.3 598.3,136.3 599.2,137.4 598.4,138.4 599.3,139.5 598.6,140.6 599.5,141.6 598.8,142.7 599.7,143.7 599.0,144.8 599.9,145.9 599.1,146.9 600.0,148.0 599.3,149.0 599.8,150.1 600.2,151.2 599.5,152.3 600.3,153.4 599.6,154.5 600.4,155.6 599.7,156.7 600.5,157.7 599.8,158.8 600.6,159.9 599.9,161.0 600.7,162.1 600.0,163.2 600.8,164.3 600.0,165.4 600.9,166.5 600.1,167.6 601.0,168.7 600.2,169.8 601.1,170.9 600.3,171.9 601.2,173.0 600.4,174.1 601.3,175.2 600.5,176.3 601.4,177.4 601.0,178.5 600.7,179.6 601.6,180.7 600.9,181.8 601.7,182.9 601.0,184.0 601.9,185.1 601.2,186.2 602.1,187.3 601.4,188.4 602.2,189.5 601.5,190.6 602.4,191.7 601.7,192.8 602.6,193.9 601.9,195.0 602.7,196.1 602.0,197.2 602.9,198.3 602.6,199.4 602.3,198.3 603.2,197.3 602.5,196.2 603.4,195.2 602.7,194.1 603.6,193.1 602.9,192.0 603.8,191.0 603.1,189.9 604.0,188.9 603.3,187.9 603.8,186.8 604.2,185.7 603.5,184.6 604.3,183.5 603.6,182.5 604.4,181.4 603.7,180.3 604.5,179.2 603.7,178.1 604.6,177.0 603.8,175.9 604.7,174.8 603.9,173.8 604.8,172.7 604.0,171.6 604.9,170.5 604.1,169.4 604.9,168.3 604.2,167.2 605.0,166.1 604.3,165.1 605.1,164.0 604.4,162.9 604.8,161.8 605.2,160.7 604.5,159.6 605.3,158.6 604.6,157.5 605.4,156.4 604.7,155.3 605.5,154.2 604.8,153.2 605.6,152.1 604.9,151.0 605.8,149.9 605.0,148.9 605.9,147.8 605.5,146.7 605.2,147.8 606.2,148.9 605.5,150.0 606.4,151.1 605.8,152.2 606.7,153.2 606.0,154.3 606.9,155.4 606.3,156.5 606.8,157.6 607.2,158.9 607.6,153.1 608.1,156.8 608.5,153.4 608.1,154.5 609.0,155.6 608.2,156.7 609.0,157.8 608.3,158.9 609.1,159.9 608.3,161.0 609.2,162.1 608.4,163.2 609.2,164.3 608.5,165.4 609.3,166.5 608.6,167.6 609.4,168.7 608.6,169.8 609.5,170.9 608.7,172.0 609.5,173.0 608.8,174.1 609.6,175.2 608.8,176.3 609.7,177.4 609.3,178.5 608.9,179.6 609.7,180.7 608.9,181.7 609.7,182.8 609.0,183.9 609.8,185.0 609.0,186.0 609.8,187.1 609.0,188.2 609.8,189.3 609.0,190.3 609.8,191.4 609.1,192.5 609.9,193.6 609.1,194.6 609.9,195.7 609.1,196.8 609.9,197.9 609.1,198.9 609.9,200.0 609.2,201.1 610.0,202.2 609.2,203.2 610.0,204.3 609.2,205.4 610.0,206.5 609.2,207.5 610.0,208.6 609.3,209.7 610.1,210.8 609.3,211.8 610.1,212.9 609.3,214.0 610.1,215.1 609.3,216.1 610.1,217.2 609.4,218.3 610.2,219.4 609.4,220.4 610.2,221.5 609.8,222.6 609.5,221.5 610.5,220.5 609.8,219.4 610.7,218.3 610.1,217.3 611.0,216.2 610.3,215.1 611.3,214.1 611.0,213.0 610.7,212.0 611.6,210.9 610.8,209.9 611.7,208.9 611.0,207.8 611.9,206.8 611.1,205.8 612.0,204.7 611.3,203.7 612.2,202.6 611.5,201.6 612.3,200.6 611.6,199.5 612.1,198.5 612.6,199.5 611.9,200.6 612.8,201.6 612.1,202.7 613.0,203.7 612.3,204.7 613.1,205.8 612.4,206.8 613.3,207.8 612.6,208.9 613.5,209.9 612.8,211.0 613.3,212.0 613.8,213.0 613.1,214.0 614.0,215.0 613.2,216.0 614.1,217.0 613.4,218.0 614.3,219.0 614.0,220.0 613.7,221.1 614.5,222.1 613.8,223.2 614.6,224.3 613.9,225.3 614.7,226.4 614.0,227.4 614.8,228.5 614.1,229.6 614.9,230.6 614.2,231.7 615.1,232.8 614.3,233.8 615.2,234.9 614.4,236.0 615.3,237.0 614.5,238.1 615.4,239.1 614.6,240.2 615.5,241.3 614.7,242.3 615.2,243.4 615.7,244.5 614.9,245.5 615.8,246.6 615.0,247.6 615.9,248.7 615.1,249.7 616.0,250.8 615.3,251.9 616.1,252.9 615.4,254.0 616.2,255.0 615.5,256.1 616.3,257.1 615.6,258.2 616.4,259.2 615.7,260.3 616.6,261.4 615.8,262.4 616.7,263.5 615.9,264.5 616.8,265.6 616.0,266.6 616.5,267.7 617.0,266.6 616.2,265.6 617.1,264.5 616.4,263.5 617.3,262.4 616.5,261.4 617.4,260.3 616.7,259.2 617.6,258.2 616.8,257.1 617.7,256.1 617.0,255.0 617.9,254.0 617.1,252.9 618.0,251.9 617.3,250.8 618.2,249.7 617.4,248.7 618.3,247.6 617.6,246.6 618.5,245.5 617.7,244.5 618.2,243.4 618.7,242.3 617.9,241.2 618.8,240.2 618.0,239.1 618.9,238.0 618.1,236.9 619.0,235.9 618.2,234.8 619.1,233.7 618.3,232.6 619.2,231.6 618.4,230.5 619.3,229.4 618.5,228.3 619.4,227.3 618.6,226.2 619.5,225.1 618.7,224.0 619.6,223.0 618.8,221.9 619.3,220.8 619.8,221.9 619.2,223.0 620.1,224.1 619.4,225.2 620.4,226.3 619.7,227.4 620.6,228.5 619.9,229.6 620.9,230.7 620.2,231.8 621.1,232.9 620.5,234.0 621.0,235.1 621.5,236.1 620.8,237.2 621.7,238.2 621.0,239.3 621.9,240.3 621.2,241.4 622.1,242.4 621.5,243.4 622.4,244.5 621.7,245.5 622.6,246.6 621.9,247.6 622.8,248.7 622.1,249.7 623.0,250.8 622.7,251.8 622.4,252.8 623.2,253.9 622.5,254.9 623.3,256.0 622.6,257.0 623.4,258.1 622.7,259.1 623.5,260.1 622.8,261.2 623.6,262.2 622.9,263.3 623.7,264.3 623.0,265.4 623.8,266.4 623.1,267.5 623.5,268.5 623.9,267.4 623.2,266.3 624.0,265.3 623.2,264.2 624.1,263.1 623.3,262.0 624.1,260.9 623.4,259.9 624.2,258.8 623.4,257.7 624.3,256.6 623.5,255.6 624.3,254.5 623.6,253.4 624.4,252.3 623.6,251.2 624.5,250.2 623.7,249.1 624.5,248.0 623.8,246.9 624.6,245.8 623.9,244.8 624.7,243.7 623.9,242.6 624.8,241.5 624.0,240.4 624.8,239.4 624.1,238.3 624.9,237.2 624.1,236.1 625.0,235.1 624.2,234.0 625.0,232.9 624.3,231.8 625.1,230.7 624.3,229.7 625.2,228.6 624.8,227.5 624.5,228.6 625.3,229.6 624.6,230.7 625.4,231.7 624.7,232.8 625.5,233.8 624.8,234.9 625.6,236.0 624.9,237.0 625.7,238.1 625.0,239.1 625.8,240.2 625.1,241.2 625.9,242.3 625.2,243.3 626.0,244.4 625.3,245.5 626.1,246.5 625.4,247.6 626.2,248.6 625.5,249.7 626.3,250.7 626.0,251.8 625.7,252.9 626.7,254.0 626.0,255.1 626.9,256.2 626.3,257.3 627.2,258.4 626.6,259.5 627.5,260.6 626.8,261.6 627.8,262.7 627.1,263.8 628.1,264.9 627.4,266.0 628.3,267.1 627.7,268.2 628.2,269.3 628.7,268.3 628.0,267.2 629.0,266.2 628.3,265.2 629.2,264.1 628.5,263.1 629.5,262.1 628.8,261.1 629.7,260.0 629.0,259.0 630.0,258.0 629.3,256.9 629.8,255.9 630.3,257.0 629.7,258.1 630.6,259.2 630.0,260.3 630.9,261.4 630.3,262.4 631.2,263.5 630.6,264.6 631.5,265.7 630.9,266.8 631.8,267.9 631.1,269.0 632.1,270.1 631.4,271.2 632.4,272.2 631.7,273.3 632.7,274.4 632.0,275.5 633.0,276.6 632.7,277.7 632.4,276.6 633.3,275.5 632.6,274.4 633.5,273.3 632.8,272.2 633.7,271.1 633.0,270.0 633.9,268.9 633.3,267.8 634.2,266.7 633.5,265.6 634.4,264.5 633.7,263.4 634.6,262.3 633.9,261.2 634.4,260.1 634.9,259.1 634.2,258.0 635.1,257.0 634.4,255.9 635.3,254.9 634.6,253.8 635.4,252.8 634.7,251.7 635.6,250.7 634.9,249.6 635.8,248.6 635.5,247.5 635.2,248.6 636.0,249.7 635.3,250.8 636.2,251.9 635.4,253.0 636.3,254.1 635.6,255.2 636.4,256.3 635.7,257.4 636.6,258.5 635.8,259.6 636.7,260.7 636.0,261.8 636.8,262.8 636.1,263.9 636.9,265.0 636.2,266.1 637.1,267.2 636.3,268.3 637.2,269.4 636.5,270.5 637.3,271.6 636.6,272.7 637.5,273.8 636.7,274.9 637.2,276.0 637.7,274.9 636.9,273.9 637.8,272.8 637.1,271.7 638.0,270.7 637.2,269.6 638.1,268.5 637.4,267.5 638.2,266.4 637.5,265.3 638.4,264.3 637.7,263.2 638.5,262.1 637.8,261.1 638.7,260.0 638.0,258.9 638.8,257.9 638.5,256.8 638.2,255.7 639.0,254.6 638.3,253.6 639.2,252.5 638.5,251.4 639.3,250.3 638.6,249.2 639.5,248.1 638.7,247.1 639.6,246.0 638.9,244.9 639.8,243.8 639.0,242.7 639.9,241.6 639.2,240.6 640.0,239.5 639.3,238.4 640.2,237.3 639.4,236.2 640.3,235.1 639.6,234.1 640.5,233.0 639.7,231.9 640.2,230.8 640.7,231.9 640.0,232.9 640.9,234.0 640.2,235.1 641.0,236.1 640.3,237.2 641.2,238.2 640.5,239.3 641.4,240.4 640.7,241.4 641.6,242.5 640.9,243.6 641.8,244.6 641.1,245.7 641.9,246.7 641.2,247.8 642.1,248.9 641.4,249.9 641.9,251.0 642.4,249.9 641.7,248.8 642.5,247.7 641.8,246.6 642.7,245.6 642.0,244.5 642.9,243.4 642.1,242.3 643.0,241.2 642.3,240.1 643.2,239.0 642.5,237.9 643.3,236.8 642.6,235.7 643.5,234.7 642.8,233.6 643.7,232.5 642.9,231.4 643.8,230.3 643.5,229.2 643.2,230.3 644.2,231.4 643.5,232.5 644.4,233.6 643.8,234.7 644.7,235.8 644.0,236.8 644.9,237.9 644.3,239.0 645.2,240.1 644.5,241.2 645.5,242.3 645.2,243.4 644.9,244.4 645.8,245.5 645.1,246.5 646.0,247.5 645.3,248.6 646.2,249.6 645.5,250.6 646.4,251.6 645.7,252.7 646.6,253.7 645.9,254.7 646.8,255.8 646.5,256.8 646.2,257.9 647.1,259.0 646.5,260.1 647.4,261.2 646.7,262.3 647.6,263.4 646.9,264.5 647.9,265.6 647.2,266.6 648.1,267.7 647.4,268.8 648.3,269.9 647.6,271.0 648.6,272.1 647.9,273.2 648.4,274.3 649.0,273.3 648.4,272.4 649.4,271.4 648.7,270.4 649.7,269.4 649.1,268.5 649.7,267.5 650.1,268.6 649.4,269.7 650.2,270.8 649.4,271.9 650.3,273.0 649.5,274.0 650.3,275.1 649.5,276.2 650.4,277.3 649.6,278.4 650.4,279.5 649.7,280.6 650.5,281.7 649.7,282.8 650.6,283.9 649.8,285.0 650.6,286.1 649.8,287.1 650.7,288.2 649.9,289.3 650.7,290.4 650.0,291.5 650.4,292.6 650.9,291.5 650.2,290.5 651.1,289.4 650.4,288.4 651.3,287.3 650.6,286.2 651.5,285.2 650.8,284.1 651.7,283.0 651.0,282.0 651.9,280.9 651.2,279.9 652.1,278.8 651.4,277.7 652.3,276.7 651.6,275.6 652.5,274.6 652.2,273.5 652.8,270.9 653.3,274.3 653.9,269.6 654.4,271.0 654.8,272.1 654.1,273.2 654.9,274.3 654.2,275.4 655.0,276.5 654.2,277.6 655.1,278.7 654.3,279.8 655.2,280.9 654.4,282.0 655.2,283.1 654.5,284.2 655.3,285.3 654.6,286.4 655.4,287.5 654.6,288.6 655.5,289.7 654.7,290.8 655.6,291.9 654.8,293.0 655.6,294.1 654.9,295.2 655.7,296.3 655.0,297.4 655.4,298.5 655.8,299.6 655.1,300.7 655.9,301.8 655.1,302.9 656.0,304.0 655.2,305.1 656.0,306.1 655.3,307.2 656.1,308.3 655.3,309.4 656.2,310.5 655.4,311.6 656.2,312.7 655.5,313.8 656.3,314.9 655.5,316.0 656.4,317.1 655.6,318.2 656.4,319.3 655.7,320.4 656.5,321.4 655.7,322.5 656.6,323.6 655.8,324.7 656.6,325.8 655.9,326.9 656.3,328.0 656.9,326.9 656.2,325.8 657.2,324.7 656.5,323.6 657.5,322.5 656.8,321.5 657.8,320.4 657.1,319.3 658.1,318.2 657.4,317.1 658.0,316.0 658.5,317.1 657.9,318.1 658.9,319.1 658.2,320.2 659.1,321.2 658.5,322.3 659.5,323.3 659.2,324.4 658.9,323.3 659.8,322.2 659.1,321.1 660.0,320.0 659.3,318.9 660.2,317.8 659.4,316.7 660.3,315.6 659.6,314.5 660.5,313.4 659.8,312.3 660.7,311.2 660.4,310.1 660.0,309.0 660.9,308.0 660.1,306.9 661.0,305.9 660.2,304.8 661.1,303.7 660.3,302.7 661.2,301.6 660.4,300.6 661.3,299.5 660.5,298.5 661.3,297.4 660.6,296.3 661.4,295.3 660.7,294.2 661.5,293.2 660.8,292.1 661.6,291.0 660.9,290.0 661.7,288.9 661.0,287.9 661.4,286.8 661.9,285.7 661.1,284.6 662.0,283.5 661.2,282.5 662.1,281.4 661.3,280.3 662.2,279.2 661.4,278.1 662.3,277.0 661.6,276.0 662.4,274.9 661.7,273.8 662.5,272.7 661.8,271.6 662.6,270.5 661.9,269.4 662.7,268.4 662.0,267.3 662.8,266.2 662.5,265.1 662.2,264.0 663.0,262.9 662.3,261.8 663.1,260.8 662.4,259.7 663.2,258.6 662.5,257.5 663.3,256.4 662.6,255.3 663.4,254.2 662.7,253.2 663.6,252.1 662.8,251.0 663.7,249.9 662.9,248.8 663.8,247.7 663.0,246.7 663.9,245.6 663.1,244.5 663.6,243.4 664.0,244.1 664.5,238.5 664.9,239.2 665.4,240.3 664.7,241.3 665.6,242.4 664.9,243.5 665.8,244.6 665.2,245.6 666.1,246.7 665.4,247.8 666.3,248.9 665.6,249.9 666.1,251.0 666.5,249.9 665.8,248.9 666.6,247.8 665.8,246.8 666.7,245.7 665.9,244.7 666.7,243.6 666.0,242.5 666.8,241.5 666.0,240.4 666.9,239.4 666.1,238.3 667.0,237.3 666.2,236.2 667.0,235.2 666.3,234.1 667.1,233.0 666.3,232.0 667.2,230.9 666.4,229.9 667.2,228.8 666.5,227.8 666.9,226.7 667.5,225.7 666.9,224.7 667.8,223.7 667.2,222.7 667.8,221.7 668.3,222.7 667.7,223.8 668.6,224.8 667.9,225.9 668.9,226.9 668.2,227.9 669.2,229.0 668.9,230.0 668.5,231.1 669.4,232.2 668.6,233.3 669.5,234.4 668.8,235.4 669.6,236.5 668.9,237.6 669.7,238.7 669.0,239.8 669.8,240.9 669.0,242.0 669.9,243.1 669.1,244.2 670.0,245.3 669.2,246.4 670.1,247.4 669.4,248.5 670.2,249.6 669.5,250.7 669.9,251.8 670.4,252.8 669.7,253.8 670.6,254.9 669.9,255.9 670.8,256.9 670.1,257.9 670.9,259.0 670.2,260.0 671.1,261.0 670.4,262.0 671.3,263.1 670.6,264.1 671.1,265.1 671.5,266.2 670.7,267.2 671.6,268.3 670.8,269.4 671.6,270.4 670.8,271.5 671.7,272.6 670.9,273.6 671.7,274.7 670.9,275.8 671.8,276.8 671.0,277.9 671.8,279.0 671.0,280.0 671.9,281.1 671.1,282.1 671.9,283.2 671.1,284.3 672.0,285.3 671.2,286.4 672.0,287.5 671.2,288.5 672.1,289.6 671.3,290.7 672.1,291.7 671.3,292.8 672.2,293.9 671.4,294.9 671.8,296.0 672.2,294.9 671.5,293.8 672.3,292.7 671.6,291.6 672.4,290.5 671.7,289.4 672.5,288.3 671.8,287.2 672.6,286.1 671.9,285.0 672.7,283.9 672.0,282.8 672.8,281.7 672.1,280.6 672.9,279.5 672.1,278.5 673.0,277.4 672.2,276.3 673.1,275.2 672.3,274.1 673.2,273.0 672.4,271.9 673.3,270.8 672.5,269.7 673.4,268.6 672.6,267.5 673.5,266.4 672.7,265.3 673.6,264.2 672.8,263.1 673.7,262.0 673.3,260.9 672.9,262.0 673.7,263.0 673.0,264.1 673.8,265.1 673.0,266.2 673.8,267.3 673.1,268.3 673.9,269.4 673.1,270.4 673.9,271.5 673.1,272.6 674.0,273.6 673.2,274.7 674.0,275.7 673.2,276.8 674.1,277.8 673.3,278.9 674.1,280.0 673.3,281.0 674.2,282.1 673.4,283.1 673.8,284.2 674.2,283.1 673.4,282.1 674.2,281.0 673.5,280.0 674.3,278.9 673.5,277.9 674.3,276.8 673.5,275.7 674.3,274.7 673.5,273.6 674.4,272.6 673.6,271.5 674.4,270.5 673.6,269.4 674.4,268.3 673.6,267.3 674.4,266.2 673.7,265.2 674.5,264.1 673.7,263.1 674.1,262.0 674.6,261.1 673.9,260.2 674.7,259.3 674.4,258.4 674.1,259.5 674.9,260.6 674.2,261.7 675.1,262.8 674.4,263.9 675.2,265.0 674.5,266.1 675.4,267.2 674.7,268.3 675.5,269.4 674.8,270.5 675.7,271.6 675.0,272.7 675.9,273.8 675.1,274.9 675.6,276.0 676.0,274.9 675.3,273.8 676.1,272.7 675.3,271.6 676.2,270.5 675.4,269.4 676.2,268.3 675.5,267.2 676.3,266.1 675.5,265.0 676.4,263.9 676.0,262.8 675.6,263.9 676.4,265.0 675.6,266.1 676.4,267.2 675.7,268.2 676.5,269.3 675.7,270.4 676.5,271.5 675.7,272.6 676.5,273.7 675.7,274.8 676.5,275.9 675.8,276.9 676.6,278.0 675.8,279.1 676.6,280.2 675.8,281.3 676.6,282.4 675.8,283.5 676.6,284.6 675.9,285.6 676.7,286.7 675.9,287.8 676.7,288.9 676.3,290.0 676.0,290.9 676.8,291.9 676.1,292.8 676.9,293.8 676.6,294.7 676.2,293.6 677.1,292.6 676.3,291.6 677.1,290.5 676.4,289.4 677.2,288.4 676.4,287.4 677.3,286.3 676.5,285.2 677.3,284.2 676.6,283.1 677.4,282.1 676.6,281.1 677.5,280.0 676.7,278.9 677.5,277.9 676.8,276.9 677.2,275.8 677.6,276.9 676.9,277.9 677.7,279.0 676.9,280.1 677.8,281.1 677.0,282.2 677.9,283.2 677.1,284.3 677.9,285.4 677.2,286.4 678.0,287.5 677.2,288.6 678.1,289.6 677.3,290.7 678.2,291.7 677.4,292.8 678.2,293.9 677.5,294.9 677.9,296.0 678.3,297.1 678.7,294.3 678.4,293.2 679.3,292.1 678.6,291.0 679.4,289.9 678.7,288.8 679.6,287.7 678.9,286.6 679.8,285.5 679.1,284.4 679.9,283.4 679.2,282.3 680.1,281.2 679.4,280.1 680.3,279.0 679.6,277.9 680.4,276.8 679.7,275.7 680.6,274.6 680.3,273.5 680.7,270.1 681.1,272.6 681.5,269.2 681.2,270.2 682.1,271.3 681.4,272.4 682.3,273.4 681.6,274.4 682.5,275.5 681.9,276.6 682.8,277.6 682.1,278.6 683.0,279.7 682.3,280.8 682.8,281.8 683.3,282.9 682.7,283.9 683.6,284.9 683.0,286.0 683.9,287.1 683.3,288.1 684.2,289.1 684.0,290.2 684.5,286.6 685.0,289.0 685.5,283.4 686.0,283.8 686.5,284.9 685.7,285.9 686.6,287.0 685.9,288.1 686.7,289.2 686.0,290.2 686.8,291.3 686.1,292.4 687.0,293.4 686.2,294.5 687.1,295.6 686.4,296.6 687.2,297.7 686.5,298.8 687.3,299.9 686.6,300.9 687.5,302.0 686.7,303.1 687.6,304.1 686.9,305.2 687.7,306.3 687.0,307.3 687.8,308.4 687.1,309.5 688.0,310.6 687.2,311.6 687.7,312.7 688.2,311.6 687.4,310.5 688.3,309.4 687.5,308.3 688.4,307.2 687.6,306.1 688.5,305.0 687.8,303.9 688.6,302.8 687.9,301.7 688.7,300.6 688.0,299.5 688.9,298.4 688.1,297.3 689.0,296.2 688.2,295.1 689.1,294.0 688.3,292.9 688.8,291.8 689.2,294.3 689.6,291.0 690.1,295.4 690.5,294.0 690.2,295.0 691.1,296.1 690.4,297.1 691.3,298.2 690.6,299.2 691.5,300.3 690.8,301.3 691.7,302.4 691.0,303.4 691.9,304.5 691.2,305.5 692.1,306.6 691.4,307.6 692.3,308.7 691.6,309.7 692.5,310.8 691.8,311.8 692.7,312.9 692.0,313.9 692.9,315.0 692.6,316.0 692.2,314.9 693.1,313.9 692.3,312.8 693.2,311.8 692.4,310.7 693.3,309.6 692.5,308.6 693.4,307.5 692.6,306.4 693.5,305.4 692.7,304.3 693.6,303.3 692.8,302.2 693.6,301.1 692.9,300.1 693.7,299.0 693.0,298.0 693.8,296.9 693.1,295.8 693.9,294.8 693.2,293.7 694.0,292.6 693.3,291.6 694.1,290.5 693.4,289.5 693.8,288.4 694.3,289.0 694.9,283.6 695.4,284.2 695.9,285.2 695.3,286.2 696.2,287.2 695.6,288.2 696.5,289.2 695.8,290.3 696.8,291.3 696.1,292.3 697.1,293.3 696.8,294.3 696.6,293.3 697.5,292.2 696.9,291.2 697.8,290.2 697.2,289.1 698.1,288.1 697.5,287.1 698.4,286.1 697.8,285.0 698.7,284.0 698.1,283.0 699.0,281.9 698.8,280.9 698.5,281.9 699.4,282.9 698.7,283.9 699.6,284.9 699.0,286.0 699.9,287.0 699.2,288.0 700.1,289.0 699.8,290.0 699.5,291.1 700.3,292.2 699.6,293.3 700.4,294.4 699.7,295.4 700.6,296.5 699.8,297.6 700.7,298.7 699.9,299.8 700.8,300.9 700.1,302.0 700.9,303.1 700.2,304.2 701.0,305.3 700.3,306.4 701.2,307.4 700.4,308.5 701.3,309.6 700.5,310.7 701.0,311.8 701.4,312.1 701.8,306.7 702.2,307.0 702.7,305.9 702.0,304.9 702.9,303.8 702.1,302.7 703.0,301.6 702.3,300.6 703.2,299.5 702.5,298.4 703.4,297.3 702.7,296.3 703.6,295.2 702.8,294.1 703.7,293.0 703.0,292.0 703.5,290.9 704.0,292.0 703.3,293.0 704.1,294.1 703.4,295.1 704.3,296.2 703.6,297.2 704.5,298.2 703.8,299.3 704.6,300.4 703.9,301.4 704.8,302.4 704.1,303.5 705.0,304.6 704.2,305.6 705.1,306.6 704.8,307.7 704.5,306.7 705.3,305.6 704.6,304.6 705.5,303.5 704.8,302.5 705.6,301.5 704.9,300.4 705.8,299.4 705.0,298.3 705.9,297.3 705.2,296.2 706.0,295.2 705.3,294.2 706.2,293.1 705.5,292.1 706.3,291.0 706.0,290.0 705.7,289.0 706.5,287.9 705.8,286.9 706.7,285.9 705.9,284.8 706.8,283.8 706.1,282.7 706.9,281.7 706.2,280.7 707.1,279.6 706.4,278.6 707.2,277.6 706.5,276.5 707.4,275.5 706.6,274.4 707.1,273.4 707.6,274.4 706.9,275.5 707.8,276.5 707.1,277.6 707.9,278.6 707.2,279.7 708.1,280.7 707.4,281.8 708.3,282.8 707.6,283.8 708.5,284.9 707.8,285.9 708.6,287.0 707.9,288.0 708.8,289.1 708.5,290.1 708.2,291.2 709.2,292.2 708.5,293.3 709.4,294.3 708.8,295.4 709.7,296.5 709.0,297.5 710.0,298.6 709.3,299.6 710.2,300.7 709.6,301.8 710.5,302.8 709.8,303.9 710.8,304.9 710.5,306.0 710.3,304.9 711.3,303.9 710.7,302.8 711.6,301.7 711.0,300.6 712.0,299.6 711.8,298.5 711.6,297.4 712.6,296.3 712.1,295.2 713.1,294.2 712.5,293.1 713.1,292.0 713.6,290.9 712.8,289.8 713.7,288.7 713.0,287.6 713.9,286.5 713.1,285.4 714.0,284.3 713.3,283.2 714.1,282.2 713.4,281.1 714.3,280.0 713.5,278.9 714.4,277.8 713.7,276.7 714.6,275.6 713.8,274.5 714.3,273.4 714.9,272.3 714.4,271.3 715.4,270.2 715.2,269.2 715.0,270.2 715.9,271.3 715.3,272.3 716.2,273.3 715.6,274.4 716.5,275.4 715.9,276.4 716.8,277.4 716.2,278.5 717.1,279.5 716.5,280.5 717.4,281.6 717.2,282.6 716.8,281.5 717.7,280.4 716.9,279.4 717.8,278.3 717.0,277.2 717.9,276.1 717.1,275.0 717.9,274.0 717.2,272.9 718.0,271.8 717.3,270.7 718.1,269.6 717.3,268.6 718.2,267.5 717.4,266.4 718.3,265.3 717.5,264.3 718.4,263.2 717.6,262.1 718.4,261.0 717.7,259.9 718.5,258.9 717.8,257.8 718.2,256.7 718.6,255.6 717.9,254.5 718.7,253.4 718.0,252.4 718.8,251.3 718.0,250.2 718.9,249.1 718.1,248.0 719.0,246.9 718.2,245.8 719.0,244.8 718.3,243.7 719.1,242.6 718.4,241.5 719.2,240.4 718.4,239.3 719.3,238.3 718.5,237.2 719.4,236.1 719.0,235.0 718.6,233.9 719.5,232.8 718.7,231.7 719.5,230.7 718.8,229.6 719.6,228.5 718.8,227.4 719.6,226.3 718.9,225.2 719.7,224.1 718.9,223.0 719.8,222.0 719.0,220.9 719.8,219.8 719.1,218.7 719.9,217.6 719.1,216.5 719.9,215.4 719.2,214.3 720.0,213.3 719.2,212.2 720.1,211.1 719.7,210.0 719.3,208.9 720.1,207.9 719.4,206.8 720.2,205.7 719.4,204.6 720.2,203.6 719.5,202.5 720.3,201.4 719.5,200.4 720.3,199.3 719.5,198.2 720.4,197.1 719.6,196.1 720.4,195.0 719.6,193.9 720.5,192.9 719.7,191.8 720.5,190.7 719.7,189.7 720.6,188.6 719.8,187.5 720.6,186.4 719.8,185.4 720.6,184.3 719.9,183.2 720.7,182.2 719.9,181.1 720.7,180.0 720.0,178.9 720.8,177.9 720.4,176.8 720.0,175.7 720.8,174.7 720.0,173.6 720.8,172.5 720.0,171.4 720.8,170.3 720.0,169.3 720.8,168.2 720.0,167.1 720.8,166.1 720.0,165.0 720.8,163.9 720.0,162.8 720.8,161.8 720.0,160.7 720.8,159.6 720.0,158.5 720.8,157.4 720.0,156.4 720.8,155.3 720.0,154.2 720.8,153.2 720.0,152.1 720.8,151.0 720.0,149.9 720.8,148.8 720.0,147.8 720.4,146.7 721.0,145.7 720.3,144.6 721.3,143.6 720.6,142.6 721.6,141.5 721.0,140.5 721.9,139.4 721.7,138.4 721.3,137.4 722.2,136.3 721.4,135.3 722.3,134.3 721.5,133.2 722.4,132.2 721.6,131.2 722.5,130.1 721.7,129.1 722.6,128.0 721.8,127.0 722.7,126.0 721.9,124.9 722.8,123.9 722.0,122.9 722.9,121.8 722.5,120.8 722.3,121.8 723.2,122.9 722.6,123.9 723.6,124.9 722.9,126.0 723.9,127.0 723.3,128.0 724.3,129.0 723.6,130.1 724.6,131.1 724.0,132.1 724.9,133.2 724.7,134.2 724.3,133.1 725.1,132.0 724.3,131.0 725.1,129.9 724.4,128.8 725.2,127.7 724.4,126.7 725.2,125.6 724.4,124.5 725.2,123.4 724.4,122.3 725.2,121.3 724.4,120.2 725.3,119.1 724.5,118.0 725.3,116.9 724.5,115.9 725.3,114.8 724.5,113.7 725.3,112.6 724.5,111.6 725.3,110.5 724.5,109.4 725.4,108.3 724.6,107.2 725.4,106.2 724.6,105.1 725.4,104.0 724.6,102.9 725.4,101.8 724.6,100.8 725.4,99.7 724.7,98.6 725.5,97.5 724.7,96.5 725.5,95.4 725.1,94.3 724.8,95.4 725.7,96.5 725.0,97.5 725.9,98.6 725.2,99.7 726.1,100.8 725.4,101.9 726.3,103.0 725.5,104.0 726.4,105.1 725.7,106.2 726.6,107.3 725.9,108.4 726.8,109.5 726.1,110.5 727.0,111.6 726.7,112.7 726.4,111.6 727.2,110.5 726.5,109.4 727.4,108.3 726.7,107.2 727.5,106.2 726.8,105.1 727.7,104.0 726.9,102.9 727.8,101.8 727.1,100.7 727.9,99.6 727.2,98.5 728.1,97.4 727.4,96.3 728.2,95.3 727.5,94.2 728.4,93.1 727.6,92.0 728.1,90.9 728.5,92.0 727.7,93.1 728.6,94.2 727.8,95.2 728.6,96.3 727.8,97.4 728.7,98.5 727.9,99.6 728.7,100.7 727.9,101.8 728.7,102.8 728.0,103.9 728.8,105.0 728.0,106.1 728.8,107.2 728.1,108.3 728.9,109.3 728.1,110.4 728.9,111.5 728.1,112.6 729.0,113.7 728.2,114.8 729.0,115.9 728.2,116.9 729.1,118.0 728.3,119.1 728.7,120.2 729.2,119.1 728.4,118.0 729.3,117.0 728.5,115.9 729.4,114.8 728.7,113.7 729.5,112.6 728.8,111.6 729.6,110.5 728.9,109.4 729.7,108.3 729.0,107.2 729.9,106.2 729.1,105.1 730.0,104.0 729.2,102.9 730.1,101.9 729.4,100.8 730.2,99.7 729.5,98.6 730.3,97.5 729.6,96.5 730.4,95.4 730.1,94.3 729.8,95.4 730.7,96.4 730.1,97.5 731.0,98.6 730.3,99.6 731.2,100.7 730.5,101.7 731.4,102.8 730.8,103.9 731.7,104.9 731.4,106.0 731.1,105.0 732.0,103.9 731.3,102.9 732.2,101.8 731.5,100.8 732.4,99.8 731.7,98.7 732.6,97.7 731.9,96.6 732.8,95.6 732.1,94.5 732.6,93.5 733.1,92.4 732.4,91.3 733.4,90.2 732.7,89.1 733.6,88.0 732.9,87.0 733.8,85.9 733.2,84.8 734.1,83.7 733.8,82.6 733.4,83.7 734.3,84.8 733.5,85.8 734.4,86.9 733.6,88.0 734.5,89.1 733.7,90.1 734.5,91.2 733.8,92.3 734.6,93.4 733.9,94.5 734.7,95.5 733.9,96.6 734.8,97.7 734.0,98.8 734.9,99.8 734.1,100.9 735.0,102.0 734.2,103.1 735.0,104.1 734.3,105.2 735.1,106.3 734.4,107.4 735.2,108.5 734.4,109.5 735.3,110.6 734.5,111.7 735.4,112.8 734.6,113.8 735.5,114.9 735.1,116.0 734.7,114.9 735.6,113.8 734.8,112.7 735.6,111.6 734.9,110.5 735.7,109.4 734.9,108.3 735.8,107.2 735.0,106.1 735.8,105.0 735.1,103.9 735.9,102.8 735.1,101.7 735.9,100.6 735.2,99.5 736.0,98.4 735.2,97.3 736.1,96.2 735.3,95.1 736.1,94.0 735.4,92.9 736.2,91.8 735.4,90.7 736.3,89.6 735.9,88.5 735.6,87.4 736.4,86.3 735.7,85.3 736.5,84.2 735.8,83.1 736.6,82.0 735.9,80.9 736.7,79.8 736.0,78.8 736.8,77.7 736.1,76.6 736.9,75.5 736.2,74.4 737.0,73.3 736.3,72.3 737.1,71.2 736.8,70.1 736.5,69.0 737.3,68.0 736.6,66.9 737.4,65.9 736.7,64.8 737.6,63.7 736.8,62.7 737.7,61.6 737.0,60.5 737.8,59.5 737.1,58.4 737.9,57.4 737.2,56.3 738.1,55.2 737.3,54.2 738.2,53.1 737.4,52.1 738.3,51.0 737.6,49.9 738.4,48.9 737.7,47.8 738.6,46.7 737.8,45.7 738.7,44.6 737.9,43.6 738.4,42.5 738.9,43.6 738.1,44.7 739.0,45.7 738.2,46.8 739.1,47.9 738.4,49.0 739.2,50.1 738.5,51.1 739.3,52.2 738.6,53.3 739.4,54.4 738.7,55.5 739.6,56.5 738.8,57.6 739.7,58.7 738.9,59.8 739.8,60.8 739.0,61.9 739.9,63.0 739.2,64.1 740.0,65.2 739.3,66.2 740.1,67.3 739.8,68.4 739.4,69.4 740.3,70.5 739.5,71.5 740.3,72.6 739.5,73.6 740.4,74.7 739.6,75.7 740.4,76.8 739.6,77.8 740.5,78.8 739.7,79.9 740.5,80.9 739.8,82.0 740.6,83.0 739.8,84.1 740.6,85.1 739.9,86.2 740.3,87.2 740.7,86.1 740.0,85.0 740.8,83.9 740.0,82.8 740.9,81.7 740.1,80.6 740.9,79.5 740.2,78.5 741.0,77.4 740.2,76.3 741.1,75.2 740.3,74.1 741.1,73.0 740.4,71.9 740.8,70.8 741.2,71.9 740.5,72.9 741.3,74.0 740.5,75.0 741.3,76.1 740.6,77.2 741.4,78.2 740.6,79.3 741.4,80.3 740.7,81.4 741.5,82.5 740.7,83.5 741.5,84.6 740.8,85.7 741.6,86.7 740.8,87.8 741.6,88.8 740.9,89.9 741.7,91.0 740.9,92.0 741.7,93.1 741.0,94.1 741.4,95.2 741.9,94.1 741.1,93.1 742.0,92.0 741.2,91.0 742.1,89.9 741.3,88.9 742.2,87.8 741.4,86.7 742.3,85.7 741.5,84.6 742.4,83.6 741.6,82.5 742.5,81.5 741.7,80.4 742.6,79.4 741.8,78.3 742.7,77.2 741.9,76.2 742.8,75.1 742.0,74.1 742.9,73.0 742.1,72.0 742.6,70.9 743.0,72.0 742.3,73.0 743.1,74.1 742.3,75.1 743.1,76.2 742.4,77.3 743.2,78.3 742.4,79.4 743.3,80.5 742.5,81.5 743.3,82.6 742.5,83.6 743.4,84.7 742.6,85.8 743.4,86.8 742.7,87.9 743.5,89.0 742.7,90.0 743.5,91.1 742.8,92.1 743.2,93.2 743.6,92.1 742.9,91.0 743.7,90.0 742.9,88.9 743.7,87.8 743.0,86.7 743.8,85.6 743.0,84.5 743.9,83.5 743.1,82.4 743.9,81.3 743.2,80.2 744.0,79.1 743.2,78.0 744.0,77.0 743.3,75.9 743.7,74.8 744.2,75.9 743.5,76.9 744.5,78.0 743.8,79.0 744.3,80.1 744.8,81.2 744.0,82.3 744.9,83.4 744.1,84.5 745.0,85.6 744.3,86.7 745.1,87.7 744.4,88.8 745.3,89.9 744.5,91.0 745.4,92.1 744.6,93.2 745.1,94.3 745.6,93.2 744.9,92.1 745.8,91.0 745.1,89.9 745.9,88.8 745.2,87.7 746.1,86.6 745.4,85.5 746.3,84.4 745.6,83.3 746.5,82.2 745.8,81.1 746.7,80.0 746.0,78.9 746.8,77.8 746.1,76.7 747.0,75.6 746.3,74.5 746.8,73.4 747.3,72.3 746.6,71.3 747.5,70.2 746.9,69.2 747.8,68.1 747.1,67.0 748.0,66.0 747.3,64.9 748.2,63.9 747.5,62.8 748.4,61.7 747.8,60.7 748.7,59.6 748.0,58.6 748.5,57.5 748.9,58.6 748.2,59.6 749.0,60.7 748.2,61.7 749.1,62.8 748.3,63.9 749.1,64.9 748.3,66.0 749.2,67.1 748.4,68.1 749.2,69.2 748.5,70.2 749.3,71.3 748.5,72.4 749.4,73.4 748.6,74.5 749.4,75.5 748.7,76.6 749.5,77.7 748.7,78.7 749.5,79.8 748.8,80.9 749.6,81.9 748.8,83.0 749.7,84.0 749.3,85.1 748.9,86.2 749.8,87.2 749.0,88.3 749.9,89.3 749.1,90.4 750.0,91.5 749.2,92.5 750.1,93.6 749.3,94.7 750.2,95.7 749.4,96.8 750.3,97.8 749.5,98.9 750.3,100.0 749.6,101.0 750.4,102.1 749.7,103.1 750.5,104.2 749.8,105.3 750.6,106.3 749.9,107.4 750.7,108.5 750.0,109.5 750.8,110.6 750.1,111.6 750.5,112.7 751.0,111.6 750.2,110.6 751.1,109.5 750.4,108.5 751.2,107.4 750.5,106.4 751.4,105.3 750.7,104.3 751.5,103.2 750.8,102.2 751.7,101.1 750.9,100.1 751.8,99.0 751.1,98.0 751.9,96.9 751.2,95.9 752.1,94.8 751.4,93.8 752.2,92.7 751.5,91.7 752.4,90.6 751.6,89.6 752.1,88.5 752.6,87.4 751.8,86.3 752.7,85.2 751.9,84.1 752.8,83.0 752.1,82.0 752.9,80.9 752.2,79.8 753.0,78.7 752.3,77.6 753.2,76.5 752.4,75.4 753.3,74.3 752.6,73.2 753.4,72.1 752.7,71.0 753.5,69.9 752.8,68.9 753.7,67.8 752.9,66.7 753.8,65.6 753.0,64.5 753.5,63.4 754.0,62.4 753.2,61.3 754.1,60.3 753.3,59.3 754.2,58.2 753.5,57.2 754.3,56.2 753.6,55.2 754.5,54.1 753.7,53.1 754.6,52.1 753.8,51.0 754.3,50.0 754.8,51.1 754.1,52.1 755.0,53.2 754.3,54.3 755.2,55.4 754.6,56.4 755.5,57.5 754.8,58.6 755.7,59.7 755.0,60.7 755.5,61.8 756.0,60.7 755.2,59.7 756.1,58.6 755.4,57.5 756.2,56.5 755.5,55.4 756.4,54.3 755.6,53.3 756.5,52.2 755.8,51.1 756.6,50.1 755.9,49.0 756.8,47.9 756.0,46.9 756.5,45.8 757.0,46.9 756.3,47.9 757.2,49.0 756.5,50.1 757.4,51.2 756.7,52.2 757.6,53.3 756.9,54.4 757.8,55.5 757.1,56.5 757.6,57.6 758.1,56.6 757.5,55.6 758.4,54.6 757.8,53.7 758.8,52.7 758.5,51.7 758.2,52.7 759.0,53.8 758.3,54.8 759.2,55.9 758.4,56.9 759.3,58.0 758.6,59.0 759.4,60.1 758.7,61.1 759.5,62.2 758.8,63.2 759.7,64.2 758.9,65.3 759.8,66.3 759.1,67.4 759.9,68.4 759.2,69.5 760.1,70.5 759.3,71.6 759.8,72.6 760.3,71.6 759.7,70.5 760.6,69.5 760.0,68.4 760.9,67.4 760.3,66.3 761.2,65.2 761.0,64.2 760.7,65.3 761.5,66.4 760.8,67.5 761.6,68.6 760.9,69.7 761.7,70.8 761.0,71.9 761.9,73.0 761.1,74.1 762.0,75.2 761.2,76.3 762.1,77.4 761.4,78.5 762.2,79.6 761.5,80.7 762.3,81.8 761.6,82.9 762.4,84.0 762.1,85.1 761.7,86.2 762.6,87.3 761.8,88.4 762.7,89.5 761.9,90.6 762.8,91.6 762.0,92.7 762.8,93.8 762.1,94.9 762.9,96.0 762.2,97.1 763.0,98.2 762.3,99.3 763.1,100.4 762.4,101.5 763.2,102.6 762.4,103.7 763.3,104.7 762.5,105.8 763.4,106.9 762.6,108.0 763.5,109.1 763.1,110.2 762.7,111.2 763.5,112.2 762.7,113.3 763.6,114.3 762.8,115.3 763.6,116.3 762.8,117.4 763.6,118.4 762.8,119.4 763.7,120.4 762.9,121.5 763.7,122.5 763.3,123.5 763.8,120.3 764.4,124.6 764.9,118.9 765.5,123.2 766.0,120.0 766.5,116.9 766.9,121.3 767.4,115.7 767.8,120.1 768.3,117.0 768.1,118.1 769.1,119.2 768.5,120.2 769.5,121.3 768.9,122.4 769.9,123.5 769.3,124.5 770.3,125.6 770.1,126.7 769.8,127.8 770.6,128.8 769.9,129.9 770.7,130.9 770.0,132.0 770.9,133.1 770.1,134.1 771.0,135.2 770.2,136.2 771.1,137.3 770.4,138.4 771.2,139.4 770.5,140.5 771.3,141.5 771.0,142.6 770.7,141.5 771.7,140.5 771.0,139.4 772.0,138.3 771.3,137.2 772.3,136.2 771.6,135.1 772.6,134.0 771.9,132.9 772.9,131.9 772.6,130.8 772.3,131.9 773.1,133.0 772.4,134.1 773.3,135.1 772.5,136.2 773.4,137.3 772.6,138.4 773.5,139.5 772.8,140.6 773.6,141.7 772.9,142.7 773.8,143.8 773.0,144.9 773.9,146.0 773.1,147.1 774.0,148.2 773.3,149.2 774.1,150.3 773.4,151.4 774.3,152.5 773.5,153.6 774.4,154.7 773.6,155.8 774.5,156.8 773.8,157.9 774.6,159.0 774.3,160.1 773.9,161.2 774.7,162.3 774.0,163.3 774.8,164.4 774.0,165.5 774.8,166.6 774.1,167.6 774.9,168.7 774.1,169.8 774.9,170.9 774.2,171.9 775.0,173.0 774.2,174.1 775.0,175.2 774.3,176.2 775.1,177.3 774.3,178.4 775.1,179.5 774.4,180.5 775.2,181.6 774.8,182.7 774.5,181.6 775.3,180.5 774.6,179.5 775.4,178.4 774.7,177.3 775.5,176.2 774.8,175.2 775.7,174.1 774.9,173.0 775.8,171.9 775.0,170.9 775.9,169.8 775.1,168.7 776.0,167.6 775.3,166.6 776.1,165.5 775.4,164.4 776.2,163.3 775.5,162.3 776.3,161.2 776.0,160.1 775.6,159.0 776.4,157.9 775.6,156.8 776.5,155.7 775.7,154.6 776.5,153.5 775.7,152.5 776.5,151.4 775.7,150.3 776.5,149.2 775.8,148.1 776.6,147.0 775.8,145.9 776.6,144.8 775.8,143.7 776.6,142.6 775.8,141.5 776.6,140.4 775.9,139.4 776.7,138.3 775.9,137.2 776.7,136.1 775.9,135.0 776.7,133.9 775.9,132.8 776.8,131.7 776.0,130.6 776.8,129.5 776.0,128.4 776.8,127.3 776.0,126.3 776.8,125.2 776.1,124.1 776.9,123.0 776.1,121.9 776.5,120.8 776.9,121.9 776.1,122.9 777.0,124.0 776.2,125.1 777.0,126.1 776.2,127.2 777.1,128.3 776.3,129.4 777.1,130.4 776.3,131.5 777.2,132.6 776.4,133.6 777.2,134.7 776.4,135.8 777.3,136.8 776.5,137.9 777.3,139.0 776.5,140.0 777.4,141.1 776.6,142.2 777.4,143.2 776.6,144.3 777.5,145.4 776.7,146.5 777.5,147.5 776.7,148.6 777.6,149.7 776.8,150.7 777.2,151.8 777.7,152.9 776.9,153.9 777.8,155.0 777.1,156.1 778.0,157.2 777.2,158.2 778.1,159.3 777.4,160.4 778.2,161.4 777.5,162.5 778.4,163.6 777.7,164.7 778.5,165.7 778.2,166.8 777.9,167.8 778.7,168.9 778.0,169.9 778.8,171.0 778.1,172.0 778.9,173.1 778.2,174.1 779.0,175.2 778.3,176.2 779.1,177.3 778.4,178.3 779.2,179.4 778.5,180.4 779.3,181.5 778.6,182.5 779.4,183.6 778.7,184.6 779.5,185.7 779.2,186.7 778.9,187.8 779.7,188.9 779.0,190.0 779.8,191.1 779.1,192.1 780.0,193.2 779.2,194.3 780.1,195.4 779.3,196.5 780.2,197.6 779.5,198.7 780.3,199.8 779.6,200.9 780.4,202.0 779.7,203.1 780.6,204.1 779.8,205.2 780.7,206.3 779.9,207.4 780.4,208.5 780.8,209.6 780.1,210.6 780.9,211.7 780.2,212.8 781.0,213.9 780.3,214.9 781.1,216.0 780.4,217.1 781.2,218.1 780.5,219.2 781.3,220.3 780.6,221.4 781.4,222.4 780.7,223.5 781.5,224.6 780.8,225.6 781.6,226.7 780.9,227.8 781.7,228.9 781.0,229.9 781.4,231.0 781.9,230.0 781.2,228.9 782.1,227.9 781.4,226.8 782.3,225.8 781.6,224.7 782.5,223.7 781.8,222.7 782.7,221.6 782.0,220.6 782.9,219.5 782.2,218.5 783.1,217.4 782.4,216.4 783.3,215.3 783.0,214.3 782.8,215.3 783.7,216.3 783.1,217.3 784.1,218.3 783.5,219.3 784.4,220.4 783.8,221.4 784.8,222.4 784.1,223.4 784.7,224.4 785.2,223.3 784.4,222.3 785.3,221.2 784.5,220.2 785.4,219.1 784.6,218.1 785.5,217.0 784.7,215.9 785.6,214.9 784.8,213.8 785.7,212.8 784.9,211.7 785.8,210.7 785.0,209.6 785.9,208.6 785.1,207.5 786.0,206.4 785.2,205.4 786.1,204.3 785.3,203.3 786.2,202.2 785.4,201.2 785.9,200.1 786.4,199.0 785.7,197.9 786.6,196.8 785.9,195.8 786.8,194.7 786.1,193.6 787.0,192.5 786.3,191.4 787.2,190.3 786.5,189.2 787.4,188.1 786.7,187.1 787.6,186.0 786.9,184.9 787.4,183.8 787.9,184.9 787.2,186.0 788.1,187.1 787.3,188.1 788.2,189.2 787.5,190.3 788.4,191.4 787.7,192.5 788.6,193.6 787.9,194.7 788.8,195.8 788.0,196.8 788.9,197.9 788.2,199.0 788.7,200.1 789.1,201.2 788.4,202.2 789.2,203.3 788.5,204.4 789.3,205.4 788.6,206.5 789.4,207.5 788.7,208.6 789.5,209.7 788.8,210.7 789.6,211.8 788.8,212.9 789.7,213.9 788.9,215.0 789.8,216.1 789.0,217.1 789.9,218.2 789.1,219.2 790.0,220.3 789.2,221.4 790.1,222.4 789.7,223.5 789.4,222.4 790.2,221.4 789.5,220.3 790.3,219.2 789.6,218.2 790.4,217.1 789.7,216.1 790.5,215.0 789.8,213.9 790.6,212.9 789.9,211.8 790.8,210.7 790.0,209.7 790.9,208.6 790.1,207.5 791.0,206.5 790.2,205.4 791.1,204.4 790.3,203.3 791.2,202.2 790.4,201.2 790.9,200.1 791.3,199.0 790.6,197.9 791.4,196.9 790.7,195.8 791.5,194.7 790.7,193.6 791.6,192.6 790.8,191.5 791.6,190.4 790.9,189.3 791.7,188.2 791.0,187.2 791.8,186.1 791.0,185.0 791.9,183.9 791.1,182.9 792.0,181.8 791.2,180.7 792.0,179.6 791.3,178.6 792.1,177.5 791.4,176.4 792.2,175.3 791.4,174.2 792.3,173.2 791.5,172.1 792.3,171.0 791.6,169.9 792.4,168.9 791.7,167.8 792.1,166.7 792.5,165.6 791.8,164.6 792.6,163.5 791.9,162.5 792.7,161.4 791.9,160.4 792.8,159.3 792.0,158.3 792.8,157.2 792.1,156.2 792.9,155.1 792.2,154.1 792.6,153.0 793.1,154.1 792.3,155.1 793.2,156.2 792.4,157.2 793.3,158.3 792.5,159.3 793.4,160.4 792.6,161.4 793.5,162.5 792.7,163.5 793.6,164.6 792.8,165.6 793.7,166.7 792.9,167.7 793.8,168.8 793.0,169.8 793.9,170.9 793.1,171.9 794.0,173.0 793.2,174.0 793.7,175.1 794.2,176.2 793.4,177.2 794.3,178.3 793.6,179.4 794.4,180.4 793.7,181.5 794.5,182.5 793.8,183.6 794.7,184.7 793.9,185.7 794.8,186.8 794.1,187.9 794.9,188.9 794.2,190.0 795.1,191.1 794.3,192.1 795.2,193.2 794.4,194.2 795.3,195.3 794.6,196.4 795.4,197.4 795.1,198.5 794.7,197.5 795.6,196.4 794.8,195.4 795.6,194.3 794.8,193.3 795.7,192.3 794.9,191.2 795.7,190.2 795.0,189.1 795.8,188.1 795.0,187.0 795.9,186.0 795.1,185.0 795.9,183.9 795.1,182.9 796.0,181.8 795.6,180.8 795.2,181.9 796.1,183.0 795.3,184.1 796.1,185.2 795.3,186.3 796.2,187.4 795.4,188.5 796.2,189.6 795.5,190.7 796.3,191.8 795.5,192.9 796.3,194.0 795.6,195.1 796.0,196.2 796.4,195.1 795.7,194.0 796.5,192.9 795.7,191.8 796.6,190.7 795.8,189.7 796.7,188.6 795.9,187.5 796.7,186.4 796.0,185.3 796.4,184.2 796.8,185.3 796.1,186.4 796.9,187.4 796.2,188.5 797.0,189.6 796.3,190.7 797.1,191.7 796.4,192.8 797.2,193.9 796.5,195.0 797.3,196.0 796.6,197.1 797.0,198.2 797.4,197.2 796.7,196.1 797.5,195.1 796.8,194.1 797.6,193.0 796.9,192.0 797.7,191.0 796.9,189.9 797.8,188.9 797.0,187.9 797.9,186.8 797.5,185.8 797.2,186.9 798.0,188.0 797.3,189.1 798.1,190.2 797.4,191.3 798.3,192.4 797.5,193.5 798.4,194.6 797.6,195.7 798.1,196.8 798.7,195.8 798.1,194.7 799.1,193.6 798.5,192.6 799.5,191.6 798.9,190.5 799.9,189.4 799.7,188.4 799.5,187.4 800.4,186.3 799.8,185.3 800.7,184.2 800.1,183.2 801.0,182.2 800.4,181.1 800.9,180.1 801.4,179.0 800.6,177.9 801.5,176.9 800.7,175.8 801.6,174.7 800.8,173.6 801.7,172.5 800.9,171.4 801.8,170.4 801.0,169.3 801.9,168.2 801.1,167.1 802.0,166.0 801.2,164.9 802.1,163.9 801.3,162.8 801.8,161.7 802.4,160.6 801.7,159.5 802.7,158.4 802.0,157.3 803.0,156.2 802.3,155.1 803.3,154.0 802.6,152.9 803.2,151.8 803.6,152.5 804.0,146.1 804.5,149.2 804.9,145.1 804.6,144.0 805.5,142.9 804.7,141.9 805.6,140.8 804.9,139.7 805.8,138.6 805.1,137.6 805.9,136.5 805.2,135.4 806.1,134.3 805.4,133.2 806.2,132.2 805.5,131.1 806.0,130.0 806.5,129.0 805.8,128.0 806.7,127.0 806.0,126.0 806.9,125.0 806.1,124.0 807.0,123.0 806.3,122.0 807.2,121.0 806.9,120.0 806.5,121.1 807.4,122.2 806.6,123.3 807.5,124.3 806.7,125.4 807.6,126.5 806.8,127.6 807.7,128.7 806.9,129.8 807.8,130.9 807.0,131.9 807.9,133.0 807.1,134.1 808.0,135.2 807.2,136.3 808.1,137.4 807.3,138.4 808.2,139.5 807.4,140.6 808.3,141.7 807.5,142.8 808.4,143.9 807.6,145.0 808.5,146.0 807.7,147.1 808.6,148.2 808.2,149.3 807.8,148.2 808.7,147.1 807.9,146.1 808.8,145.0 808.0,143.9 808.9,142.8 808.1,141.8 809.0,140.7 808.2,139.6 809.1,138.5 808.3,137.5 809.2,136.4 808.4,135.3 809.3,134.2 808.5,133.2 809.4,132.1 808.6,131.0 809.5,129.9 808.7,128.9 809.6,127.8 809.2,126.7 808.8,125.6 809.6,124.6 808.8,123.5 809.6,122.5 808.8,121.4 809.6,120.3 808.8,119.3 809.5,118.2 808.7,117.2 809.5,116.1 808.7,115.0 809.5,114.0 808.7,112.9 809.5,111.8 808.7,110.8 809.5,109.7 808.7,108.7 809.5,107.6 808.7,106.5 809.5,105.5 808.6,104.4 809.4,103.4 808.6,102.3 809.4,101.2 808.6,100.2 809.4,99.1 808.6,98.1 809.0,97.0 809.5,99.7 810.0,94.9 810.5,100.1 811.0,95.3 811.5,98.0 812.0,97.0 811.3,96.0 812.2,95.0 811.5,94.0 812.4,93.0 811.7,92.0 812.6,91.0 811.9,90.0 812.8,89.0 812.5,88.0 813.0,84.8 813.5,89.2 814.0,86.0 813.8,85.0 814.8,84.0 814.2,83.0 815.3,82.0 814.7,81.0 815.7,80.0 815.5,79.0 815.2,78.0 816.0,76.9 815.3,75.9 816.2,74.8 815.4,73.8 816.3,72.7 815.6,71.7 816.4,70.6 815.7,69.6 816.6,68.5 815.8,67.5 816.7,66.4 816.0,65.4 816.8,64.3 816.5,63.3 816.2,64.4 817.0,65.4 816.3,66.5 817.2,67.5 816.4,68.6 817.3,69.7 816.6,70.7 817.4,71.8 816.7,72.8 817.6,73.9 816.8,75.0 817.7,76.0 817.0,77.1 817.8,78.1 817.5,79.2 818.0,75.0 818.5,78.5 819.0,74.3 818.7,75.4 819.6,76.4 818.9,77.5 819.8,78.6 819.1,79.7 820.0,80.7 819.3,81.8 820.2,82.9 819.5,83.9 820.0,85.0 820.5,86.0 819.9,87.0 820.9,88.0 820.2,89.0 821.1,90.0 820.5,91.0 821.5,92.0 821.2,93.0 820.9,94.0 821.8,95.0 821.1,96.0 822.0,97.1 821.3,98.1 822.1,99.1 821.4,100.1 822.3,101.1 821.6,102.2 822.5,103.2 821.8,104.2 822.3,105.2 822.8,106.3 822.0,107.3 822.9,108.4 822.1,109.5 823.0,110.6 822.2,111.6 823.1,112.7 822.3,113.8 823.2,114.8 822.4,115.9 823.3,117.0 822.5,118.0 823.4,119.1 822.6,120.2 823.5,121.3 822.7,122.3 823.2,123.4 823.6,124.5 822.8,125.6 823.6,126.7 822.9,127.8 823.7,128.9 822.9,130.0 823.7,131.1 822.9,132.1 823.7,133.2 822.9,134.3 823.8,135.4 823.0,136.5 823.8,137.6 823.0,138.7 823.8,139.8 823.0,140.9 823.8,142.0 823.0,143.1 823.9,144.2 823.1,145.3 823.9,146.4 823.1,147.4 823.9,148.5 823.1,149.6 823.9,150.7 823.2,151.8 824.0,152.9 823.2,154.0 823.6,155.1 824.1,154.0 823.4,153.0 824.3,151.9 823.6,150.8 824.5,149.7 823.8,148.7 824.6,147.6 823.9,146.5 824.8,145.5 824.1,144.4 825.0,143.3 824.3,142.2 825.2,141.2 824.9,140.1 824.6,139.0 825.5,138.0 824.7,136.9 825.6,135.9 824.9,134.8 825.8,133.7 825.1,132.7 825.9,131.6 825.2,130.6 826.1,129.5 825.4,128.4 826.3,127.4 825.5,126.3 826.4,125.3 826.1,124.2 825.8,125.3 826.7,126.4 826.0,127.4 826.9,128.5 826.2,129.6 827.1,130.7 826.4,131.8 827.3,132.9 826.6,133.9 827.5,135.0 826.8,136.1 827.7,137.2 827.0,138.3 827.9,139.4 827.2,140.4 828.1,141.5 827.8,142.6 827.5,141.5 828.4,140.5 827.7,139.4 828.6,138.4 827.9,137.3 828.8,136.3 828.1,135.2 829.0,134.2 828.3,133.2 829.2,132.1 828.5,131.1 829.4,130.0 828.7,128.9 829.6,127.9 828.9,126.8 829.4,125.8 829.8,126.9 829.1,128.0 829.9,129.0 829.1,130.1 830.0,131.2 829.2,132.3 830.0,133.3 829.3,134.4 830.1,135.5 829.3,136.6 830.2,137.7 829.4,138.7 830.2,139.8 829.4,140.9 830.3,142.0 829.5,143.1 830.3,144.1 829.6,145.2 830.4,146.3 829.6,147.4 830.5,148.4 829.7,149.5 830.5,150.6 829.8,151.7 830.6,152.8 829.8,153.8 830.7,154.9 830.3,156.0 830.1,155.0 831.0,153.9 830.4,152.9 831.3,151.8 831.1,150.8 830.8,151.9 831.7,152.9 831.0,154.0 831.9,155.0 831.2,156.1 832.1,157.2 831.4,158.2 832.3,159.3 831.6,160.3 832.5,161.4 831.8,162.4 832.3,163.5 832.8,162.4 832.0,161.4 832.9,160.3 832.1,159.3 833.0,158.2 832.2,157.2 833.1,156.1 832.3,155.0 833.2,154.0 832.4,152.9 833.3,151.9 832.5,150.8 833.4,149.7 832.6,148.7 833.5,147.6 832.7,146.6 833.6,145.5 832.8,144.5 833.3,143.4 833.7,142.4 833.0,141.3 833.8,140.3 833.1,139.3 833.9,138.2 833.2,137.2 834.0,136.2 833.3,135.2 834.1,134.1 833.4,133.1 834.2,132.1 833.5,131.0 833.9,130.0 834.3,131.9 834.8,126.6 835.2,130.9 835.7,125.6 836.1,127.5 836.7,128.5 836.1,129.5 837.1,130.4 836.5,131.4 837.5,132.4 837.3,133.4 837.7,132.4 838.2,138.6 838.6,137.6 838.4,136.5 839.4,135.4 838.8,134.3 839.7,133.3 839.1,132.2 840.1,131.1 839.9,130.0 839.6,129.0 840.4,128.0 839.7,126.9 840.5,125.9 839.8,124.9 840.6,123.9 839.9,122.8 840.7,121.8 840.0,120.8 840.8,119.8 840.1,118.7 840.9,117.7 840.6,116.7 840.3,115.7 841.3,114.6 840.6,113.6 841.5,112.5 840.9,111.5 841.8,110.4 841.2,109.4 842.1,108.3 841.4,107.3 842.4,106.3 841.7,105.2 842.6,104.2 842.0,103.1 842.9,102.1 842.3,101.0 842.8,100.0 843.2,101.5 843.6,95.5 844.1,99.5 844.5,96.0 844.2,97.0 845.1,98.0 844.4,99.0 845.3,100.0 844.6,101.0 845.5,102.0 844.8,103.0 845.7,104.0 845.0,105.0 845.9,106.0 845.6,107.0 845.3,108.0 846.2,109.1 845.5,110.1 846.4,111.2 845.7,112.2 846.6,113.2 845.9,114.3 846.7,115.3 846.0,116.4 846.9,117.4 846.2,118.4 847.1,119.5 846.4,120.5 847.3,121.6 847.0,122.6 846.7,121.6 847.7,120.6 847.0,119.6 847.9,118.6 847.3,117.5 848.2,116.5 847.5,115.5 848.5,114.5 848.2,113.5 848.0,112.5 848.9,111.4 848.3,110.4 849.2,109.3 848.6,108.3 849.6,107.3 848.9,106.2 849.5,105.2 850.1,104.2 849.5,103.1 850.5,102.1 849.9,101.0 850.9,100.0 850.3,99.0 851.3,97.9 850.7,96.9 851.7,95.8 851.5,94.8 851.2,95.8 852.1,96.8 851.4,97.8 852.3,98.9 851.6,99.9 852.5,100.9 851.8,101.9 852.7,102.9 852.0,103.9 852.9,105.0 852.2,106.0 853.1,107.0 852.8,108.0 852.5,109.0 853.4,110.1 852.8,111.1 853.7,112.2 853.0,113.2 853.9,114.3 853.2,115.3 854.2,116.3 853.5,117.4 854.4,118.4 853.7,119.5 854.7,120.5 854.0,121.6 854.5,122.6 855.0,121.6 854.3,120.5 855.2,119.5 854.5,118.5 855.4,117.4 854.7,116.4 855.6,115.4 854.9,114.3 855.8,113.3 855.1,112.2 856.0,111.2 855.3,110.2 856.2,109.1 855.5,108.1 856.4,107.1 855.7,106.0 856.2,105.0 856.7,103.9 856.0,102.8 857.0,101.7 856.3,100.6 857.2,99.5 856.5,98.5 857.4,97.4 856.7,96.3 857.7,95.2 857.0,94.1 857.5,93.0 858.0,94.6 858.5,91.0 858.2,92.0 859.1,93.0 858.4,94.0 859.3,95.0 858.7,96.0 859.6,97.0 858.9,98.0 859.8,99.0 859.5,100.0 859.2,101.0 860.0,102.0 859.3,103.0 860.2,104.0 859.5,105.0 860.3,106.0 860.0,107.0 859.7,108.1 860.7,109.2 860.0,110.2 860.9,111.3 860.3,112.4 861.2,113.5 860.5,114.5 861.5,115.6 861.2,116.7 860.9,117.7 861.8,118.7 861.2,119.8 862.1,120.8 861.4,121.8 862.3,122.8 861.7,123.9 862.6,124.9 861.9,125.9 862.8,126.9 862.2,128.0 863.1,129.0 862.8,130.0 862.5,131.0 863.4,132.1 862.7,133.1 863.6,134.2 862.9,135.2 863.8,136.3 863.1,137.3 864.0,138.3 863.4,139.4 864.3,140.4 863.6,141.5 864.5,142.5 863.8,143.6 864.7,144.6 864.0,145.7 864.5,146.7 865.0,147.7 864.3,148.8 865.2,149.8 864.5,150.9 865.4,151.9 864.7,153.0 865.6,154.0 864.9,155.1 865.7,156.1 865.0,157.1 865.9,158.2 865.2,159.2 866.1,160.3 865.4,161.3 866.3,162.4 866.0,163.4 865.7,164.5 866.6,165.5 865.8,166.6 866.7,167.6 866.0,168.7 866.9,169.8 866.2,170.8 867.0,171.9 866.3,172.9 867.2,174.0 866.5,175.1 867.4,176.1 866.6,177.2 867.5,178.2 867.2,179.3 867.1,178.2 868.1,177.2 867.6,176.1 868.7,175.1 868.2,174.0 869.2,172.9 868.7,171.9 869.4,170.8 869.9,174.2 870.5,170.8 871.0,174.2 871.4,174.8 871.9,168.5 872.3,171.5 872.7,167.5 873.1,166.5 873.5,172.4 874.0,169.0 874.4,172.6 874.9,171.6 874.2,170.6 875.1,169.5 874.4,168.5 875.2,167.5 874.5,166.5 875.4,165.4 874.7,164.4 875.2,163.4 875.8,162.4 875.3,161.4 876.3,160.4 875.7,159.5 876.8,158.5 876.6,157.5 876.2,158.6 877.1,159.7 876.3,160.8 877.2,161.9 876.4,163.0 877.3,164.1 876.5,165.1 877.4,166.2 876.6,167.3 877.5,168.4 876.7,169.5 877.6,170.6 877.2,171.7 876.9,172.8 877.8,173.8 877.1,174.9 878.0,176.0 877.3,177.0 878.1,178.1 877.4,179.1 878.3,180.2 877.6,181.3 878.5,182.3 878.2,183.4 877.8,184.4 878.7,185.5 877.9,186.5 878.8,187.6 878.0,188.6 878.9,189.7 878.1,190.7 878.9,191.8 878.2,192.8 879.0,193.8 878.3,194.9 879.1,195.9 878.4,197.0 879.2,198.0 878.5,199.1 878.9,200.1 879.3,201.2 878.6,202.2 879.4,203.3 878.6,204.4 879.5,205.4 878.7,206.5 879.5,207.6 878.8,208.6 879.6,209.7 878.8,210.8 879.7,211.8 878.9,212.9 879.7,214.0 879.0,215.0 879.8,216.1 879.1,217.1 879.9,218.2 879.1,219.3 880.0,220.3 879.2,221.4 880.0,222.5 879.3,223.5 880.1,224.6 879.3,225.7 880.2,226.7 879.4,227.8 880.2,228.9 879.5,229.9 879.9,231.0 880.5,229.9 879.8,228.8 880.8,227.7 880.2,226.6 881.1,225.6 880.5,224.5 881.5,223.4 880.9,222.3 881.8,221.2 881.6,220.1 881.3,219.0 882.2,218.0 881.5,216.9 882.3,215.9 881.6,214.8 882.5,213.8 881.8,212.7 882.7,211.7 882.0,210.6 882.8,209.6 882.1,208.5 883.0,207.5 882.3,206.4 883.2,205.4 882.5,204.3 883.3,203.3 882.6,202.2 883.5,201.2 883.2,200.1 883.7,197.0 884.2,200.6 884.8,195.3 885.3,196.7 885.8,197.7 885.1,198.8 886.0,199.8 885.3,200.8 886.2,201.9 885.5,202.9 886.4,203.9 885.7,204.9 886.6,206.0 885.9,207.0 886.8,208.0 886.1,209.1 886.6,210.1 887.0,211.2 886.3,212.3 887.1,213.3 886.3,214.4 887.1,215.5 886.4,216.6 887.2,217.6 886.4,218.7 887.3,219.8 886.5,220.9 887.3,221.9 886.6,223.0 887.4,224.1 886.6,225.2 887.4,226.2 886.7,227.3 887.5,228.4 886.7,229.5 887.6,230.6 886.8,231.6 887.6,232.7 886.8,233.8 887.7,234.9 886.9,235.9 887.7,237.0 887.0,238.1 887.8,239.2 887.0,240.2 887.9,241.3 887.1,242.4 887.9,243.5 887.1,244.5 888.0,245.6 887.6,246.7 887.2,247.8 888.1,248.8 887.3,249.9 888.1,251.0 887.4,252.1 888.2,253.1 887.5,254.2 888.3,255.3 887.5,256.3 888.4,257.4 887.6,258.5 888.4,259.6 887.7,260.6 888.1,261.7 888.5,264.2 888.9,260.5 889.3,263.0 889.7,264.1 889.0,265.1 889.8,266.2 889.1,267.3 889.9,268.3 889.2,269.4 890.0,270.5 889.3,271.6 890.1,272.6 889.4,273.7 890.2,274.8 889.5,275.8 890.4,276.9 889.6,278.0 890.5,279.0 890.1,280.1 889.7,281.1 890.5,282.2 889.8,283.2 890.6,284.3 889.8,285.3 890.6,286.4 889.9,287.4 890.7,288.5 889.9,289.5 890.8,290.5 890.0,291.6 890.8,292.6 890.0,293.7 890.9,294.7 890.1,295.8 890.5,296.8 891.0,295.8 890.2,294.7 891.1,293.7 890.4,292.6 891.2,291.6 890.5,290.5 891.3,289.5 890.6,288.5 891.5,287.4 890.7,286.4 891.6,285.3 890.9,284.3 891.7,283.2 891.0,282.2 891.8,281.1 891.5,280.1 891.1,279.0 892.0,278.0 891.2,276.9 892.1,275.8 891.3,274.7 892.1,273.7 891.4,272.6 892.2,271.5 891.5,270.4 892.3,269.4 891.5,268.3 892.4,267.2 891.6,266.1 892.4,265.1 891.7,264.0 892.5,262.9 891.8,261.8 892.6,260.8 891.8,259.7 892.7,258.6 891.9,257.5 892.8,256.4 892.0,255.4 892.8,254.3 892.1,253.2 892.9,252.2 892.2,251.1 892.6,250.0 893.1,248.9 892.4,247.8 893.4,246.7 892.7,245.6 893.6,244.5 892.9,243.4 893.8,242.3 893.2,241.2 894.1,240.1 893.4,239.0 894.3,237.9 893.6,236.8 894.6,235.7 893.9,234.6 894.4,233.5 894.9,232.5 894.2,231.4 895.1,230.4 894.4,229.4 895.3,228.3 894.6,227.3 895.4,226.3 894.7,225.3 895.6,224.2 894.9,223.2 895.8,222.2 895.1,221.1 895.6,220.1 896.1,221.1 895.4,222.2 896.3,223.2 895.6,224.2 896.5,225.3 895.8,226.3 896.7,227.3 896.0,228.3 896.9,229.4 896.2,230.4 897.1,231.4 896.4,232.5 896.9,233.5 897.3,234.6 896.6,235.6 897.4,236.7 896.7,237.8 897.5,238.8 896.8,239.9 897.6,240.9 896.9,242.0 897.8,243.1 897.0,244.1 897.9,245.2 897.1,246.3 898.0,247.3 897.6,248.4 898.0,247.4 898.4,252.7 898.8,251.7 899.2,255.8 899.7,266.0 900.1,270.1 900.6,267.7 901.1,271.3 901.6,266.8 902.1,268.4 902.6,278.7 903.1,285.1 903.5,289.0 903.8,296.8 903.8,311.8 904.3,315.4 904.7,313.3 905.2,316.8 905.6,321.5 906.1,320.5 906.5,325.2 906.9,330.3 907.3,329.9 907.7,335.0 908.1,343.9 908.5,349.3 908.9,343.6 909.4,343.2 909.8,337.5 910.3,337.6 910.8,343.1 911.3,341.4 911.8,345.1 911.8,363.4 912.2,377.4 912.7,388.0" fill="none" stroke="#000" stroke-width="3" stroke-linejoin="round" stroke-linecap="round"/>
<circle cx="908.5" cy="392.3" r="4.6" fill="#d5131f"/>
<polygon points="938,389 944,378 1006,378 1006,400 944,400" fill="#000"/>
<text x="946.5" y="394.1" font-size="14.3" fill="#fff" textLength="60.8" lengthAdjust="spacingAndGlyphs">1458.0884</text>
<rect x="126.5" y="81.5" width="265" height="31" rx="4" ry="4" fill="#fff" stroke="#000" stroke-width="1.3"/>
<rect x="134.5" y="93.5" width="6" height="6" fill="#fff" stroke="#777" stroke-width="1"/>
<path d="M136 96.5h3M137.5 95v3" stroke="#555" stroke-width="1" shape-rendering="crispEdges"/>
<rect x="144" y="91" width="12" height="12" fill="#000"/>
<text x="210.9" y="103.2" font-size="14" fill="#151515" text-anchor="middle" transform="translate(210.9 104.2) scale(1.4 1.18) translate(-210.9 -103.2)">/</text>
<text x="159.9" y="103.2" font-size="14" fill="#151515" textLength="42.2" lengthAdjust="spacingAndGlyphs">Bitcoin</text>
<text x="218.5" y="103.2" font-size="14" fill="#151515" textLength="33.6" lengthAdjust="spacingAndGlyphs">Silver</text>
<text x="257.3" y="103.2" font-size="14" fill="#151515" textLength="26.0" lengthAdjust="spacingAndGlyphs">Spot</text>
<text x="287.9" y="103.2" font-size="14" fill="#151515" textLength="30.0" lengthAdjust="spacingAndGlyphs">$/Oz</text>
<text x="324.2" y="103.2" font-size="14" fill="#151515" textLength="59.7" lengthAdjust="spacingAndGlyphs">1458.0884</text>
</svg></body></html>
